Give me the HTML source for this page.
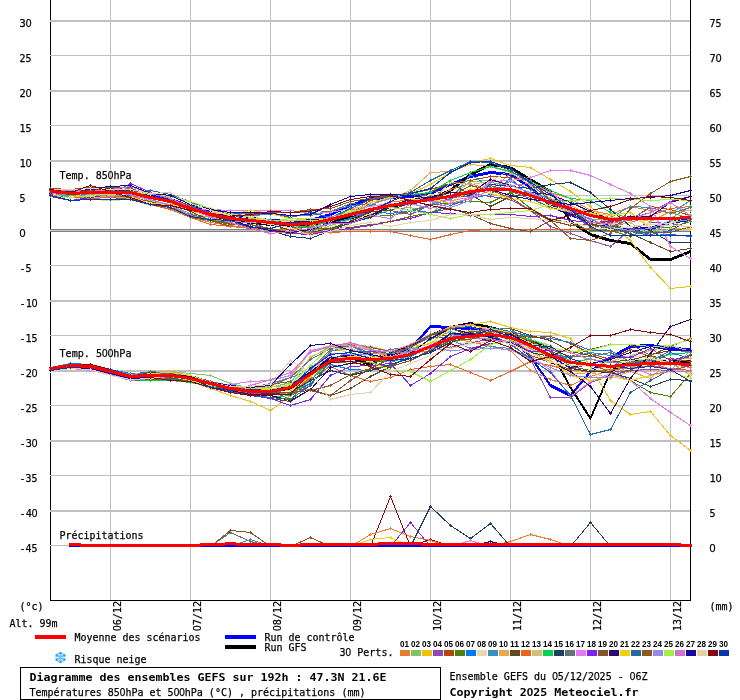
<!DOCTYPE html><html><head><meta charset="utf-8"><title>Diagramme des ensembles GEFS</title>
<style>html,body{margin:0;padding:0;background:#fff}svg{display:block}text{font-family:"DejaVu Sans Mono","Liberation Mono",monospace;fill:#000}.s{font-size:11px;stroke:#000;stroke-width:0.25px}.b{font-size:11px;font-weight:bold}.t{font-family:"Liberation Sans","DejaVu Sans",sans-serif;font-size:8.6px;font-weight:bold}.z{font-family:"Liberation Sans","DejaVu Sans",sans-serif}.m polyline{fill:none;stroke-width:1}</style></head><body>
<svg width="740" height="700" viewBox="0 0 740 700">
<rect width="740" height="700" fill="#fff"/>
<g shape-rendering="crispEdges">
<rect x="50" y="0" width="1" height="601" fill="#000"/>
<rect x="110" y="0" width="1" height="600" fill="#c0c0c0"/>
<rect x="190" y="0" width="1" height="600" fill="#c0c0c0"/>
<rect x="270" y="0" width="1" height="600" fill="#c0c0c0"/>
<rect x="350" y="0" width="1" height="600" fill="#c0c0c0"/>
<rect x="430" y="0" width="1" height="600" fill="#c0c0c0"/>
<rect x="510" y="0" width="1" height="600" fill="#c0c0c0"/>
<rect x="590" y="0" width="1" height="600" fill="#c0c0c0"/>
<rect x="670" y="0" width="1" height="600" fill="#c0c0c0"/>
<rect x="50" y="20" width="640" height="2" fill="#c0c0c0"/>
<rect x="50" y="55" width="640" height="1" fill="#c0c0c0"/>
<rect x="50" y="90" width="640" height="2" fill="#c0c0c0"/>
<rect x="50" y="125" width="640" height="1" fill="#c0c0c0"/>
<rect x="50" y="160" width="640" height="2" fill="#c0c0c0"/>
<rect x="50" y="195" width="640" height="1" fill="#c0c0c0"/>
<rect x="50" y="230" width="640" height="2" fill="#c0c0c0"/>
<rect x="50" y="265" width="640" height="1" fill="#c0c0c0"/>
<rect x="50" y="300" width="640" height="2" fill="#c0c0c0"/>
<rect x="50" y="335" width="640" height="1" fill="#c0c0c0"/>
<rect x="50" y="370" width="640" height="2" fill="#c0c0c0"/>
<rect x="50" y="405" width="640" height="1" fill="#c0c0c0"/>
<rect x="50" y="440" width="640" height="2" fill="#c0c0c0"/>
<rect x="50" y="475" width="640" height="1" fill="#c0c0c0"/>
<rect x="50" y="510" width="640" height="2" fill="#c0c0c0"/>
<rect x="50" y="545" width="640" height="1" fill="#c0c0c0"/>
<rect x="50" y="229" width="640" height="3" fill="#808080"/><rect x="50" y="230" width="640" height="1" fill="#c8c8c8"/>
<rect x="690" y="0" width="1" height="601" fill="#000"/><rect x="50" y="600" width="641" height="1" fill="#000"/></g>
<polygon points="50.5,188.5 70.5,191.5 90.5,189.5 110.5,189.5 130.5,191.5 150.5,194.5 170.5,198.5 190.5,205.5 210.5,211.5 230.5,215.5 250.5,217.5 270.5,219.5 290.5,220.5 310.5,219.5 330.5,213.5 350.5,204.5 370.5,197.5 390.5,196.5 410.5,195.5 430.5,192.5 450.5,183.5 470.5,175.5 490.5,171.5 510.5,173.5 530.5,186.5 550.5,204.5 570.5,213.5 590.5,221.5 610.5,225.5 630.5,228.5 650.5,227.5 670.5,221.5 690.5,218.5 690.5,220.5 670.5,223.5 650.5,229.5 630.5,230.5 610.5,227.5 590.5,223.5 570.5,215.5 550.5,206.5 530.5,188.5 510.5,175.5 490.5,173.5 470.5,177.5 450.5,185.5 430.5,194.5 410.5,197.5 390.5,198.5 370.5,199.5 350.5,206.5 330.5,215.5 310.5,221.5 290.5,222.5 270.5,221.5 250.5,219.5 230.5,217.5 210.5,213.5 190.5,207.5 170.5,200.5 150.5,196.5 130.5,193.5 110.5,191.5 90.5,191.5 70.5,193.5 50.5,190.5" fill="#0000ff" stroke="#0000ff" stroke-width="1" stroke-linejoin="round" shape-rendering="crispEdges"/>
<polygon points="50.5,367.5 70.5,364.5 90.5,365.5 110.5,371.5 130.5,376.5 150.5,374.5 170.5,375.5 190.5,378.5 210.5,383.5 230.5,388.5 250.5,390.5 270.5,390.5 290.5,385.5 310.5,369.5 330.5,356.5 350.5,355.5 370.5,356.5 390.5,354.5 410.5,347.5 430.5,325.5 450.5,326.5 470.5,327.5 490.5,329.5 510.5,336.5 530.5,355.5 550.5,384.5 570.5,394.5 590.5,370.5 610.5,356.5 630.5,345.5 650.5,344.5 670.5,347.5 690.5,348.5 690.5,350.5 670.5,349.5 650.5,346.5 630.5,347.5 610.5,358.5 590.5,372.5 570.5,396.5 550.5,386.5 530.5,357.5 510.5,338.5 490.5,331.5 470.5,329.5 450.5,328.5 430.5,327.5 410.5,349.5 390.5,356.5 370.5,358.5 350.5,357.5 330.5,358.5 310.5,371.5 290.5,387.5 270.5,392.5 250.5,392.5 230.5,390.5 210.5,385.5 190.5,380.5 170.5,377.5 150.5,376.5 130.5,378.5 110.5,373.5 90.5,367.5 70.5,366.5 50.5,369.5" fill="#0000ff" stroke="#0000ff" stroke-width="1" stroke-linejoin="round" shape-rendering="crispEdges"/>
<polygon points="50.5,189.5 70.5,192.5 90.5,191.5 110.5,190.5 130.5,191.5 150.5,196.5 170.5,200.5 190.5,207.5 210.5,214.5 230.5,218.5 250.5,221.5 270.5,223.5 290.5,224.5 310.5,223.5 330.5,220.5 350.5,216.5 370.5,213.5 390.5,205.5 410.5,201.5 430.5,197.5 450.5,189.5 470.5,173.5 490.5,163.5 510.5,166.5 530.5,178.5 550.5,190.5 570.5,220.5 590.5,233.5 610.5,239.5 630.5,242.5 650.5,258.5 670.5,258.5 690.5,250.5 690.5,252.5 670.5,260.5 650.5,260.5 630.5,244.5 610.5,241.5 590.5,235.5 570.5,222.5 550.5,192.5 530.5,180.5 510.5,168.5 490.5,165.5 470.5,175.5 450.5,191.5 430.5,199.5 410.5,203.5 390.5,207.5 370.5,215.5 350.5,218.5 330.5,222.5 310.5,225.5 290.5,226.5 270.5,225.5 250.5,223.5 230.5,220.5 210.5,216.5 190.5,209.5 170.5,202.5 150.5,198.5 130.5,193.5 110.5,192.5 90.5,193.5 70.5,194.5 50.5,191.5" fill="#000000" stroke="#000000" stroke-width="1" stroke-linejoin="round" shape-rendering="crispEdges"/>
<polygon points="50.5,367.5 70.5,364.5 90.5,365.5 110.5,370.5 130.5,375.5 150.5,374.5 170.5,374.5 190.5,377.5 210.5,383.5 230.5,388.5 250.5,390.5 270.5,390.5 290.5,387.5 310.5,372.5 330.5,358.5 350.5,356.5 370.5,363.5 390.5,352.5 410.5,345.5 430.5,334.5 450.5,326.5 470.5,322.5 490.5,326.5 510.5,332.5 530.5,339.5 550.5,349.5 570.5,386.5 590.5,417.5 610.5,370.5 630.5,359.5 650.5,359.5 670.5,360.5 690.5,360.5 690.5,362.5 670.5,362.5 650.5,361.5 630.5,361.5 610.5,372.5 590.5,419.5 570.5,388.5 550.5,351.5 530.5,341.5 510.5,334.5 490.5,328.5 470.5,324.5 450.5,328.5 430.5,336.5 410.5,347.5 390.5,354.5 370.5,365.5 350.5,358.5 330.5,360.5 310.5,374.5 290.5,389.5 270.5,392.5 250.5,392.5 230.5,390.5 210.5,385.5 190.5,379.5 170.5,376.5 150.5,376.5 130.5,377.5 110.5,372.5 90.5,367.5 70.5,366.5 50.5,369.5" fill="#000000" stroke="#000000" stroke-width="1" stroke-linejoin="round" shape-rendering="crispEdges"/>
<g class="m" shape-rendering="crispEdges">
<polyline points="50,191.5 70,194.5 90,194.5 110,192.5 130,197.5 150,203.5 170,208.5 190,216.5 210,222.5 230,225.5 250,228.5 270,229.5 290,229.5 310,226.5 330,217.5 350,209.5 370,209.5 390,201.5 410,200.5 430,200.5 450,189.5 470,183.5 490,190.5 510,173.5 530,182.5 550,192.5 570,198.5 590,210.5 610,214.5 630,206.5 650,210.5 670,212.5 690,218.5" stroke="#E87C30" transform="translate(0.5,0)"/>
<path d="M49,191h3v1h-3zM50,190h1v3h-1zM69,194h3v1h-3zM70,193h1v3h-1zM89,194h3v1h-3zM90,193h1v3h-1zM109,192h3v1h-3zM110,191h1v3h-1zM129,197h3v1h-3zM130,196h1v3h-1zM149,203h3v1h-3zM150,202h1v3h-1zM169,208h3v1h-3zM170,207h1v3h-1zM189,216h3v1h-3zM190,215h1v3h-1zM209,222h3v1h-3zM210,221h1v3h-1zM229,225h3v1h-3zM230,224h1v3h-1zM249,228h3v1h-3zM250,227h1v3h-1zM269,229h3v1h-3zM270,228h1v3h-1zM289,229h3v1h-3zM290,228h1v3h-1zM309,226h3v1h-3zM310,225h1v3h-1zM329,217h3v1h-3zM330,216h1v3h-1zM349,209h3v1h-3zM350,208h1v3h-1zM369,209h3v1h-3zM370,208h1v3h-1zM389,201h3v1h-3zM390,200h1v3h-1zM409,200h3v1h-3zM410,199h1v3h-1zM429,200h3v1h-3zM430,199h1v3h-1zM449,189h3v1h-3zM450,188h1v3h-1zM469,183h3v1h-3zM470,182h1v3h-1zM489,190h3v1h-3zM490,189h1v3h-1zM509,173h3v1h-3zM510,172h1v3h-1zM529,182h3v1h-3zM530,181h1v3h-1zM549,192h3v1h-3zM550,191h1v3h-1zM569,198h3v1h-3zM570,197h1v3h-1zM589,210h3v1h-3zM590,209h1v3h-1zM609,214h3v1h-3zM610,213h1v3h-1zM629,206h3v1h-3zM630,205h1v3h-1zM649,210h3v1h-3zM650,209h1v3h-1zM669,212h3v1h-3zM670,211h1v3h-1zM689,218h3v1h-3zM690,217h1v3h-1z" fill="#E87C30" stroke="none"/>
<polyline points="50,367.5 70,363.5 90,364.5 110,372.5 130,376.5 150,378.5 170,376.5 190,379.5 210,383.5 230,387.5 250,390.5 270,391.5 290,395.5 310,376.5 330,350.5 350,349.5 370,353.5 390,353.5 410,351.5 430,351.5 450,339.5 470,341.5 490,346.5 510,350.5 530,370.5 550,379.5 570,385.5 590,376.5 610,370.5 630,366.5 650,363.5 670,364.5 690,367.5" stroke="#E87C30" transform="translate(0.5,0)"/>
<path d="M49,367h3v1h-3zM50,366h1v3h-1zM69,363h3v1h-3zM70,362h1v3h-1zM89,364h3v1h-3zM90,363h1v3h-1zM109,372h3v1h-3zM110,371h1v3h-1zM129,376h3v1h-3zM130,375h1v3h-1zM149,378h3v1h-3zM150,377h1v3h-1zM169,376h3v1h-3zM170,375h1v3h-1zM189,379h3v1h-3zM190,378h1v3h-1zM209,383h3v1h-3zM210,382h1v3h-1zM229,387h3v1h-3zM230,386h1v3h-1zM249,390h3v1h-3zM250,389h1v3h-1zM269,391h3v1h-3zM270,390h1v3h-1zM289,395h3v1h-3zM290,394h1v3h-1zM309,376h3v1h-3zM310,375h1v3h-1zM329,350h3v1h-3zM330,349h1v3h-1zM349,349h3v1h-3zM350,348h1v3h-1zM369,353h3v1h-3zM370,352h1v3h-1zM389,353h3v1h-3zM390,352h1v3h-1zM409,351h3v1h-3zM410,350h1v3h-1zM429,351h3v1h-3zM430,350h1v3h-1zM449,339h3v1h-3zM450,338h1v3h-1zM469,341h3v1h-3zM470,340h1v3h-1zM489,346h3v1h-3zM490,345h1v3h-1zM509,350h3v1h-3zM510,349h1v3h-1zM529,370h3v1h-3zM530,369h1v3h-1zM549,379h3v1h-3zM550,378h1v3h-1zM569,385h3v1h-3zM570,384h1v3h-1zM589,376h3v1h-3zM590,375h1v3h-1zM609,370h3v1h-3zM610,369h1v3h-1zM629,366h3v1h-3zM630,365h1v3h-1zM649,363h3v1h-3zM650,362h1v3h-1zM669,364h3v1h-3zM670,363h1v3h-1zM689,367h3v1h-3zM690,366h1v3h-1z" fill="#E87C30" stroke="none"/>
<polyline points="50,195.5 70,197.5 90,197.5 110,196.5 130,198.5 150,201.5 170,205.5 190,213.5 210,217.5 230,222.5 250,226.5 270,231.5 290,233.5 310,233.5 330,225.5 350,219.5 370,217.5 390,209.5 410,207.5 430,214.5 450,196.5 470,181.5 490,180.5 510,184.5 530,193.5 550,198.5 570,209.5 590,219.5 610,220.5 630,234.5 650,232.5 670,222.5 690,219.5" stroke="#80C468" transform="translate(0.5,0)"/>
<path d="M49,195h3v1h-3zM50,194h1v3h-1zM69,197h3v1h-3zM70,196h1v3h-1zM89,197h3v1h-3zM90,196h1v3h-1zM109,196h3v1h-3zM110,195h1v3h-1zM129,198h3v1h-3zM130,197h1v3h-1zM149,201h3v1h-3zM150,200h1v3h-1zM169,205h3v1h-3zM170,204h1v3h-1zM189,213h3v1h-3zM190,212h1v3h-1zM209,217h3v1h-3zM210,216h1v3h-1zM229,222h3v1h-3zM230,221h1v3h-1zM249,226h3v1h-3zM250,225h1v3h-1zM269,231h3v1h-3zM270,230h1v3h-1zM289,233h3v1h-3zM290,232h1v3h-1zM309,233h3v1h-3zM310,232h1v3h-1zM329,225h3v1h-3zM330,224h1v3h-1zM349,219h3v1h-3zM350,218h1v3h-1zM369,217h3v1h-3zM370,216h1v3h-1zM389,209h3v1h-3zM390,208h1v3h-1zM409,207h3v1h-3zM410,206h1v3h-1zM429,214h3v1h-3zM430,213h1v3h-1zM449,196h3v1h-3zM450,195h1v3h-1zM469,181h3v1h-3zM470,180h1v3h-1zM489,180h3v1h-3zM490,179h1v3h-1zM509,184h3v1h-3zM510,183h1v3h-1zM529,193h3v1h-3zM530,192h1v3h-1zM549,198h3v1h-3zM550,197h1v3h-1zM569,209h3v1h-3zM570,208h1v3h-1zM589,219h3v1h-3zM590,218h1v3h-1zM609,220h3v1h-3zM610,219h1v3h-1zM629,234h3v1h-3zM630,233h1v3h-1zM649,232h3v1h-3zM650,231h1v3h-1zM669,222h3v1h-3zM670,221h1v3h-1zM689,219h3v1h-3zM690,218h1v3h-1z" fill="#80C468" stroke="none"/>
<polyline points="50,369.5 70,366.5 90,364.5 110,370.5 130,373.5 150,372.5 170,371.5 190,373.5 210,375.5 230,383.5 250,388.5 270,387.5 290,382.5 310,357.5 330,346.5 350,344.5 370,346.5 390,351.5 410,352.5 430,348.5 450,342.5 470,338.5 490,338.5 510,334.5 530,348.5 550,358.5 570,363.5 590,358.5 610,366.5 630,368.5 650,358.5 670,362.5 690,375.5" stroke="#80C468" transform="translate(0.5,0)"/>
<path d="M49,369h3v1h-3zM50,368h1v3h-1zM69,366h3v1h-3zM70,365h1v3h-1zM89,364h3v1h-3zM90,363h1v3h-1zM109,370h3v1h-3zM110,369h1v3h-1zM129,373h3v1h-3zM130,372h1v3h-1zM149,372h3v1h-3zM150,371h1v3h-1zM169,371h3v1h-3zM170,370h1v3h-1zM189,373h3v1h-3zM190,372h1v3h-1zM209,375h3v1h-3zM210,374h1v3h-1zM229,383h3v1h-3zM230,382h1v3h-1zM249,388h3v1h-3zM250,387h1v3h-1zM269,387h3v1h-3zM270,386h1v3h-1zM289,382h3v1h-3zM290,381h1v3h-1zM309,357h3v1h-3zM310,356h1v3h-1zM329,346h3v1h-3zM330,345h1v3h-1zM349,344h3v1h-3zM350,343h1v3h-1zM369,346h3v1h-3zM370,345h1v3h-1zM389,351h3v1h-3zM390,350h1v3h-1zM409,352h3v1h-3zM410,351h1v3h-1zM429,348h3v1h-3zM430,347h1v3h-1zM449,342h3v1h-3zM450,341h1v3h-1zM469,338h3v1h-3zM470,337h1v3h-1zM489,338h3v1h-3zM490,337h1v3h-1zM509,334h3v1h-3zM510,333h1v3h-1zM529,348h3v1h-3zM530,347h1v3h-1zM549,358h3v1h-3zM550,357h1v3h-1zM569,363h3v1h-3zM570,362h1v3h-1zM589,358h3v1h-3zM590,357h1v3h-1zM609,366h3v1h-3zM610,365h1v3h-1zM629,368h3v1h-3zM630,367h1v3h-1zM649,358h3v1h-3zM650,357h1v3h-1zM669,362h3v1h-3zM670,361h1v3h-1zM689,375h3v1h-3zM690,374h1v3h-1z" fill="#80C468" stroke="none"/>
<polyline points="50,194.5 70,195.5 90,196.5 110,195.5 130,196.5 150,203.5 170,206.5 190,207.5 210,212.5 230,213.5 250,217.5 270,220.5 290,220.5 310,220.5 330,219.5 350,214.5 370,214.5 390,201.5 410,193.5 430,184.5 450,172.5 470,162.5 490,158.5 510,165.5 530,167.5 550,179.5 570,191.5 590,206.5 610,224.5 630,240.5 650,267.5 670,288.5 690,286.5" stroke="#F0C010" transform="translate(0.5,0)"/>
<path d="M49,194h3v1h-3zM50,193h1v3h-1zM69,195h3v1h-3zM70,194h1v3h-1zM89,196h3v1h-3zM90,195h1v3h-1zM109,195h3v1h-3zM110,194h1v3h-1zM129,196h3v1h-3zM130,195h1v3h-1zM149,203h3v1h-3zM150,202h1v3h-1zM169,206h3v1h-3zM170,205h1v3h-1zM189,207h3v1h-3zM190,206h1v3h-1zM209,212h3v1h-3zM210,211h1v3h-1zM229,213h3v1h-3zM230,212h1v3h-1zM249,217h3v1h-3zM250,216h1v3h-1zM269,220h3v1h-3zM270,219h1v3h-1zM289,220h3v1h-3zM290,219h1v3h-1zM309,220h3v1h-3zM310,219h1v3h-1zM329,219h3v1h-3zM330,218h1v3h-1zM349,214h3v1h-3zM350,213h1v3h-1zM369,214h3v1h-3zM370,213h1v3h-1zM389,201h3v1h-3zM390,200h1v3h-1zM409,193h3v1h-3zM410,192h1v3h-1zM429,184h3v1h-3zM430,183h1v3h-1zM449,172h3v1h-3zM450,171h1v3h-1zM469,162h3v1h-3zM470,161h1v3h-1zM489,158h3v1h-3zM490,157h1v3h-1zM509,165h3v1h-3zM510,164h1v3h-1zM529,167h3v1h-3zM530,166h1v3h-1zM549,179h3v1h-3zM550,178h1v3h-1zM569,191h3v1h-3zM570,190h1v3h-1zM589,206h3v1h-3zM590,205h1v3h-1zM609,224h3v1h-3zM610,223h1v3h-1zM629,240h3v1h-3zM630,239h1v3h-1zM649,267h3v1h-3zM650,266h1v3h-1zM669,288h3v1h-3zM670,287h1v3h-1zM689,286h3v1h-3zM690,285h1v3h-1z" fill="#F0C010" stroke="none"/>
<polyline points="50,369.5 70,366.5 90,367.5 110,372.5 130,378.5 150,373.5 170,375.5 190,381.5 210,388.5 230,395.5 250,401.5 270,410.5 290,395.5 310,379.5 330,362.5 350,358.5 370,356.5 390,353.5 410,347.5 430,336.5 450,326.5 470,324.5 490,321.5 510,327.5 530,331.5 550,332.5 570,338.5 590,366.5 610,400.5 630,414.5 650,411.5 670,435.5 690,450.5" stroke="#F0C010" transform="translate(0.5,0)"/>
<path d="M49,369h3v1h-3zM50,368h1v3h-1zM69,366h3v1h-3zM70,365h1v3h-1zM89,367h3v1h-3zM90,366h1v3h-1zM109,372h3v1h-3zM110,371h1v3h-1zM129,378h3v1h-3zM130,377h1v3h-1zM149,373h3v1h-3zM150,372h1v3h-1zM169,375h3v1h-3zM170,374h1v3h-1zM189,381h3v1h-3zM190,380h1v3h-1zM209,388h3v1h-3zM210,387h1v3h-1zM229,395h3v1h-3zM230,394h1v3h-1zM249,401h3v1h-3zM250,400h1v3h-1zM269,410h3v1h-3zM270,409h1v3h-1zM289,395h3v1h-3zM290,394h1v3h-1zM309,379h3v1h-3zM310,378h1v3h-1zM329,362h3v1h-3zM330,361h1v3h-1zM349,358h3v1h-3zM350,357h1v3h-1zM369,356h3v1h-3zM370,355h1v3h-1zM389,353h3v1h-3zM390,352h1v3h-1zM409,347h3v1h-3zM410,346h1v3h-1zM429,336h3v1h-3zM430,335h1v3h-1zM449,326h3v1h-3zM450,325h1v3h-1zM469,324h3v1h-3zM470,323h1v3h-1zM489,321h3v1h-3zM490,320h1v3h-1zM509,327h3v1h-3zM510,326h1v3h-1zM529,331h3v1h-3zM530,330h1v3h-1zM549,332h3v1h-3zM550,331h1v3h-1zM569,338h3v1h-3zM570,337h1v3h-1zM589,366h3v1h-3zM590,365h1v3h-1zM609,400h3v1h-3zM610,399h1v3h-1zM629,414h3v1h-3zM630,413h1v3h-1zM649,411h3v1h-3zM650,410h1v3h-1zM669,435h3v1h-3zM670,434h1v3h-1zM689,450h3v1h-3zM690,449h1v3h-1z" fill="#F0C010" stroke="none"/>
<polyline points="50,194.5 70,197.5 90,195.5 110,196.5 130,199.5 150,205.5 170,202.5 190,210.5 210,216.5 230,223.5 250,227.5 270,229.5 290,232.5 310,223.5 330,223.5 350,218.5 370,209.5 390,210.5 410,214.5 430,204.5 450,198.5 470,193.5 490,196.5 510,199.5 530,210.5 550,226.5 570,233.5 590,240.5 610,246.5 630,229.5 650,222.5 670,223.5 690,227.5" stroke="#9048B0" transform="translate(0.5,0)"/>
<path d="M49,194h3v1h-3zM50,193h1v3h-1zM69,197h3v1h-3zM70,196h1v3h-1zM89,195h3v1h-3zM90,194h1v3h-1zM109,196h3v1h-3zM110,195h1v3h-1zM129,199h3v1h-3zM130,198h1v3h-1zM149,205h3v1h-3zM150,204h1v3h-1zM169,202h3v1h-3zM170,201h1v3h-1zM189,210h3v1h-3zM190,209h1v3h-1zM209,216h3v1h-3zM210,215h1v3h-1zM229,223h3v1h-3zM230,222h1v3h-1zM249,227h3v1h-3zM250,226h1v3h-1zM269,229h3v1h-3zM270,228h1v3h-1zM289,232h3v1h-3zM290,231h1v3h-1zM309,223h3v1h-3zM310,222h1v3h-1zM329,223h3v1h-3zM330,222h1v3h-1zM349,218h3v1h-3zM350,217h1v3h-1zM369,209h3v1h-3zM370,208h1v3h-1zM389,210h3v1h-3zM390,209h1v3h-1zM409,214h3v1h-3zM410,213h1v3h-1zM429,204h3v1h-3zM430,203h1v3h-1zM449,198h3v1h-3zM450,197h1v3h-1zM469,193h3v1h-3zM470,192h1v3h-1zM489,196h3v1h-3zM490,195h1v3h-1zM509,199h3v1h-3zM510,198h1v3h-1zM529,210h3v1h-3zM530,209h1v3h-1zM549,226h3v1h-3zM550,225h1v3h-1zM569,233h3v1h-3zM570,232h1v3h-1zM589,240h3v1h-3zM590,239h1v3h-1zM609,246h3v1h-3zM610,245h1v3h-1zM629,229h3v1h-3zM630,228h1v3h-1zM649,222h3v1h-3zM650,221h1v3h-1zM669,223h3v1h-3zM670,222h1v3h-1zM689,227h3v1h-3zM690,226h1v3h-1z" fill="#9048B0" stroke="none"/>
<polyline points="50,370.5 70,368.5 90,369.5 110,373.5 130,376.5 150,375.5 170,377.5 190,380.5 210,386.5 230,392.5 250,393.5 270,393.5 290,395.5 310,385.5 330,361.5 350,361.5 370,362.5 390,367.5 410,353.5 430,346.5 450,347.5 470,342.5 490,339.5 510,343.5 530,359.5 550,397.5 570,397.5 590,382.5 610,375.5 630,370.5 650,369.5 670,370.5 690,365.5" stroke="#9048B0" transform="translate(0.5,0)"/>
<path d="M49,370h3v1h-3zM50,369h1v3h-1zM69,368h3v1h-3zM70,367h1v3h-1zM89,369h3v1h-3zM90,368h1v3h-1zM109,373h3v1h-3zM110,372h1v3h-1zM129,376h3v1h-3zM130,375h1v3h-1zM149,375h3v1h-3zM150,374h1v3h-1zM169,377h3v1h-3zM170,376h1v3h-1zM189,380h3v1h-3zM190,379h1v3h-1zM209,386h3v1h-3zM210,385h1v3h-1zM229,392h3v1h-3zM230,391h1v3h-1zM249,393h3v1h-3zM250,392h1v3h-1zM269,393h3v1h-3zM270,392h1v3h-1zM289,395h3v1h-3zM290,394h1v3h-1zM309,385h3v1h-3zM310,384h1v3h-1zM329,361h3v1h-3zM330,360h1v3h-1zM349,361h3v1h-3zM350,360h1v3h-1zM369,362h3v1h-3zM370,361h1v3h-1zM389,367h3v1h-3zM390,366h1v3h-1zM409,353h3v1h-3zM410,352h1v3h-1zM429,346h3v1h-3zM430,345h1v3h-1zM449,347h3v1h-3zM450,346h1v3h-1zM469,342h3v1h-3zM470,341h1v3h-1zM489,339h3v1h-3zM490,338h1v3h-1zM509,343h3v1h-3zM510,342h1v3h-1zM529,359h3v1h-3zM530,358h1v3h-1zM549,397h3v1h-3zM550,396h1v3h-1zM569,397h3v1h-3zM570,396h1v3h-1zM589,382h3v1h-3zM590,381h1v3h-1zM609,375h3v1h-3zM610,374h1v3h-1zM629,370h3v1h-3zM630,369h1v3h-1zM649,369h3v1h-3zM650,368h1v3h-1zM669,370h3v1h-3zM670,369h1v3h-1zM689,365h3v1h-3zM690,364h1v3h-1z" fill="#9048B0" stroke="none"/>
<polyline points="50,193.5 70,193.5 90,193.5 110,193.5 130,198.5 150,204.5 170,209.5 190,217.5 210,220.5 230,226.5 250,228.5 270,229.5 290,231.5 310,225.5 330,218.5 350,213.5 370,200.5 390,195.5 410,193.5 430,189.5 450,183.5 470,180.5 490,176.5 510,177.5 530,180.5 550,199.5 570,209.5 590,223.5 610,222.5 630,220.5 650,206.5 670,209.5 690,215.5" stroke="#B04810" transform="translate(0.5,0)"/>
<path d="M49,193h3v1h-3zM50,192h1v3h-1zM69,193h3v1h-3zM70,192h1v3h-1zM89,193h3v1h-3zM90,192h1v3h-1zM109,193h3v1h-3zM110,192h1v3h-1zM129,198h3v1h-3zM130,197h1v3h-1zM149,204h3v1h-3zM150,203h1v3h-1zM169,209h3v1h-3zM170,208h1v3h-1zM189,217h3v1h-3zM190,216h1v3h-1zM209,220h3v1h-3zM210,219h1v3h-1zM229,226h3v1h-3zM230,225h1v3h-1zM249,228h3v1h-3zM250,227h1v3h-1zM269,229h3v1h-3zM270,228h1v3h-1zM289,231h3v1h-3zM290,230h1v3h-1zM309,225h3v1h-3zM310,224h1v3h-1zM329,218h3v1h-3zM330,217h1v3h-1zM349,213h3v1h-3zM350,212h1v3h-1zM369,200h3v1h-3zM370,199h1v3h-1zM389,195h3v1h-3zM390,194h1v3h-1zM409,193h3v1h-3zM410,192h1v3h-1zM429,189h3v1h-3zM430,188h1v3h-1zM449,183h3v1h-3zM450,182h1v3h-1zM469,180h3v1h-3zM470,179h1v3h-1zM489,176h3v1h-3zM490,175h1v3h-1zM509,177h3v1h-3zM510,176h1v3h-1zM529,180h3v1h-3zM530,179h1v3h-1zM549,199h3v1h-3zM550,198h1v3h-1zM569,209h3v1h-3zM570,208h1v3h-1zM589,223h3v1h-3zM590,222h1v3h-1zM609,222h3v1h-3zM610,221h1v3h-1zM629,220h3v1h-3zM630,219h1v3h-1zM649,206h3v1h-3zM650,205h1v3h-1zM669,209h3v1h-3zM670,208h1v3h-1zM689,215h3v1h-3zM690,214h1v3h-1z" fill="#B04810" stroke="none"/>
<polyline points="50,369.5 70,366.5 90,367.5 110,372.5 130,379.5 150,378.5 170,378.5 190,382.5 210,386.5 230,392.5 250,394.5 270,395.5 290,384.5 310,369.5 330,349.5 350,344.5 370,347.5 390,351.5 410,348.5 430,334.5 450,335.5 470,330.5 490,329.5 510,333.5 530,337.5 550,336.5 570,343.5 590,353.5 610,359.5 630,349.5 650,356.5 670,358.5 690,361.5" stroke="#B04810" transform="translate(0.5,0)"/>
<path d="M49,369h3v1h-3zM50,368h1v3h-1zM69,366h3v1h-3zM70,365h1v3h-1zM89,367h3v1h-3zM90,366h1v3h-1zM109,372h3v1h-3zM110,371h1v3h-1zM129,379h3v1h-3zM130,378h1v3h-1zM149,378h3v1h-3zM150,377h1v3h-1zM169,378h3v1h-3zM170,377h1v3h-1zM189,382h3v1h-3zM190,381h1v3h-1zM209,386h3v1h-3zM210,385h1v3h-1zM229,392h3v1h-3zM230,391h1v3h-1zM249,394h3v1h-3zM250,393h1v3h-1zM269,395h3v1h-3zM270,394h1v3h-1zM289,384h3v1h-3zM290,383h1v3h-1zM309,369h3v1h-3zM310,368h1v3h-1zM329,349h3v1h-3zM330,348h1v3h-1zM349,344h3v1h-3zM350,343h1v3h-1zM369,347h3v1h-3zM370,346h1v3h-1zM389,351h3v1h-3zM390,350h1v3h-1zM409,348h3v1h-3zM410,347h1v3h-1zM429,334h3v1h-3zM430,333h1v3h-1zM449,335h3v1h-3zM450,334h1v3h-1zM469,330h3v1h-3zM470,329h1v3h-1zM489,329h3v1h-3zM490,328h1v3h-1zM509,333h3v1h-3zM510,332h1v3h-1zM529,337h3v1h-3zM530,336h1v3h-1zM549,336h3v1h-3zM550,335h1v3h-1zM569,343h3v1h-3zM570,342h1v3h-1zM589,353h3v1h-3zM590,352h1v3h-1zM609,359h3v1h-3zM610,358h1v3h-1zM629,349h3v1h-3zM630,348h1v3h-1zM649,356h3v1h-3zM650,355h1v3h-1zM669,358h3v1h-3zM670,357h1v3h-1zM689,361h3v1h-3zM690,360h1v3h-1z" fill="#B04810" stroke="none"/>
<polyline points="50,190.5 70,193.5 90,198.5 110,197.5 130,199.5 150,204.5 170,207.5 190,216.5 210,220.5 230,224.5 250,224.5 270,230.5 290,227.5 310,227.5 330,228.5 350,223.5 370,216.5 390,215.5 410,211.5 430,204.5 450,203.5 470,201.5 490,202.5 510,192.5 530,208.5 550,219.5 570,222.5 590,230.5 610,230.5 630,236.5 650,227.5 670,227.5 690,221.5" stroke="#508010" transform="translate(0.5,0)"/>
<path d="M49,190h3v1h-3zM50,189h1v3h-1zM69,193h3v1h-3zM70,192h1v3h-1zM89,198h3v1h-3zM90,197h1v3h-1zM109,197h3v1h-3zM110,196h1v3h-1zM129,199h3v1h-3zM130,198h1v3h-1zM149,204h3v1h-3zM150,203h1v3h-1zM169,207h3v1h-3zM170,206h1v3h-1zM189,216h3v1h-3zM190,215h1v3h-1zM209,220h3v1h-3zM210,219h1v3h-1zM229,224h3v1h-3zM230,223h1v3h-1zM249,224h3v1h-3zM250,223h1v3h-1zM269,230h3v1h-3zM270,229h1v3h-1zM289,227h3v1h-3zM290,226h1v3h-1zM309,227h3v1h-3zM310,226h1v3h-1zM329,228h3v1h-3zM330,227h1v3h-1zM349,223h3v1h-3zM350,222h1v3h-1zM369,216h3v1h-3zM370,215h1v3h-1zM389,215h3v1h-3zM390,214h1v3h-1zM409,211h3v1h-3zM410,210h1v3h-1zM429,204h3v1h-3zM430,203h1v3h-1zM449,203h3v1h-3zM450,202h1v3h-1zM469,201h3v1h-3zM470,200h1v3h-1zM489,202h3v1h-3zM490,201h1v3h-1zM509,192h3v1h-3zM510,191h1v3h-1zM529,208h3v1h-3zM530,207h1v3h-1zM549,219h3v1h-3zM550,218h1v3h-1zM569,222h3v1h-3zM570,221h1v3h-1zM589,230h3v1h-3zM590,229h1v3h-1zM609,230h3v1h-3zM610,229h1v3h-1zM629,236h3v1h-3zM630,235h1v3h-1zM649,227h3v1h-3zM650,226h1v3h-1zM669,227h3v1h-3zM670,226h1v3h-1zM689,221h3v1h-3zM690,220h1v3h-1z" fill="#508010" stroke="none"/>
<polyline points="50,370.5 70,367.5 90,368.5 110,372.5 130,374.5 150,374.5 170,377.5 190,378.5 210,383.5 230,388.5 250,389.5 270,390.5 290,399.5 310,379.5 330,361.5 350,363.5 370,362.5 390,360.5 410,350.5 430,347.5 450,336.5 470,331.5 490,332.5 510,331.5 530,340.5 550,351.5 570,366.5 590,370.5 610,372.5 630,380.5 650,392.5 670,396.5 690,373.5" stroke="#508010" transform="translate(0.5,0)"/>
<path d="M49,370h3v1h-3zM50,369h1v3h-1zM69,367h3v1h-3zM70,366h1v3h-1zM89,368h3v1h-3zM90,367h1v3h-1zM109,372h3v1h-3zM110,371h1v3h-1zM129,374h3v1h-3zM130,373h1v3h-1zM149,374h3v1h-3zM150,373h1v3h-1zM169,377h3v1h-3zM170,376h1v3h-1zM189,378h3v1h-3zM190,377h1v3h-1zM209,383h3v1h-3zM210,382h1v3h-1zM229,388h3v1h-3zM230,387h1v3h-1zM249,389h3v1h-3zM250,388h1v3h-1zM269,390h3v1h-3zM270,389h1v3h-1zM289,399h3v1h-3zM290,398h1v3h-1zM309,379h3v1h-3zM310,378h1v3h-1zM329,361h3v1h-3zM330,360h1v3h-1zM349,363h3v1h-3zM350,362h1v3h-1zM369,362h3v1h-3zM370,361h1v3h-1zM389,360h3v1h-3zM390,359h1v3h-1zM409,350h3v1h-3zM410,349h1v3h-1zM429,347h3v1h-3zM430,346h1v3h-1zM449,336h3v1h-3zM450,335h1v3h-1zM469,331h3v1h-3zM470,330h1v3h-1zM489,332h3v1h-3zM490,331h1v3h-1zM509,331h3v1h-3zM510,330h1v3h-1zM529,340h3v1h-3zM530,339h1v3h-1zM549,351h3v1h-3zM550,350h1v3h-1zM569,366h3v1h-3zM570,365h1v3h-1zM589,370h3v1h-3zM590,369h1v3h-1zM609,372h3v1h-3zM610,371h1v3h-1zM629,380h3v1h-3zM630,379h1v3h-1zM649,392h3v1h-3zM650,391h1v3h-1zM669,396h3v1h-3zM670,395h1v3h-1zM689,373h3v1h-3zM690,372h1v3h-1z" fill="#508010" stroke="none"/>
<polyline points="50,190.5 70,194.5 90,194.5 110,194.5 130,195.5 150,196.5 170,200.5 190,208.5 210,213.5 230,216.5 250,222.5 270,221.5 290,225.5 310,231.5 330,223.5 350,218.5 370,211.5 390,213.5 410,210.5 430,212.5 450,205.5 470,198.5 490,194.5 510,178.5 530,196.5 550,207.5 570,209.5 590,222.5 610,228.5 630,231.5 650,235.5 670,234.5 690,236.5" stroke="#0878F0" transform="translate(0.5,0)"/>
<path d="M49,190h3v1h-3zM50,189h1v3h-1zM69,194h3v1h-3zM70,193h1v3h-1zM89,194h3v1h-3zM90,193h1v3h-1zM109,194h3v1h-3zM110,193h1v3h-1zM129,195h3v1h-3zM130,194h1v3h-1zM149,196h3v1h-3zM150,195h1v3h-1zM169,200h3v1h-3zM170,199h1v3h-1zM189,208h3v1h-3zM190,207h1v3h-1zM209,213h3v1h-3zM210,212h1v3h-1zM229,216h3v1h-3zM230,215h1v3h-1zM249,222h3v1h-3zM250,221h1v3h-1zM269,221h3v1h-3zM270,220h1v3h-1zM289,225h3v1h-3zM290,224h1v3h-1zM309,231h3v1h-3zM310,230h1v3h-1zM329,223h3v1h-3zM330,222h1v3h-1zM349,218h3v1h-3zM350,217h1v3h-1zM369,211h3v1h-3zM370,210h1v3h-1zM389,213h3v1h-3zM390,212h1v3h-1zM409,210h3v1h-3zM410,209h1v3h-1zM429,212h3v1h-3zM430,211h1v3h-1zM449,205h3v1h-3zM450,204h1v3h-1zM469,198h3v1h-3zM470,197h1v3h-1zM489,194h3v1h-3zM490,193h1v3h-1zM509,178h3v1h-3zM510,177h1v3h-1zM529,196h3v1h-3zM530,195h1v3h-1zM549,207h3v1h-3zM550,206h1v3h-1zM569,209h3v1h-3zM570,208h1v3h-1zM589,222h3v1h-3zM590,221h1v3h-1zM609,228h3v1h-3zM610,227h1v3h-1zM629,231h3v1h-3zM630,230h1v3h-1zM649,235h3v1h-3zM650,234h1v3h-1zM669,234h3v1h-3zM670,233h1v3h-1zM689,236h3v1h-3zM690,235h1v3h-1z" fill="#0878F0" stroke="none"/>
<polyline points="50,367.5 70,363.5 90,364.5 110,369.5 130,373.5 150,372.5 170,373.5 190,375.5 210,381.5 230,387.5 250,389.5 270,390.5 290,393.5 310,383.5 330,364.5 350,369.5 370,370.5 390,365.5 410,356.5 430,346.5 450,339.5 470,336.5 490,327.5 510,331.5 530,336.5 550,338.5 570,342.5 590,350.5 610,350.5 630,362.5 650,363.5 670,352.5 690,358.5" stroke="#0878F0" transform="translate(0.5,0)"/>
<path d="M49,367h3v1h-3zM50,366h1v3h-1zM69,363h3v1h-3zM70,362h1v3h-1zM89,364h3v1h-3zM90,363h1v3h-1zM109,369h3v1h-3zM110,368h1v3h-1zM129,373h3v1h-3zM130,372h1v3h-1zM149,372h3v1h-3zM150,371h1v3h-1zM169,373h3v1h-3zM170,372h1v3h-1zM189,375h3v1h-3zM190,374h1v3h-1zM209,381h3v1h-3zM210,380h1v3h-1zM229,387h3v1h-3zM230,386h1v3h-1zM249,389h3v1h-3zM250,388h1v3h-1zM269,390h3v1h-3zM270,389h1v3h-1zM289,393h3v1h-3zM290,392h1v3h-1zM309,383h3v1h-3zM310,382h1v3h-1zM329,364h3v1h-3zM330,363h1v3h-1zM349,369h3v1h-3zM350,368h1v3h-1zM369,370h3v1h-3zM370,369h1v3h-1zM389,365h3v1h-3zM390,364h1v3h-1zM409,356h3v1h-3zM410,355h1v3h-1zM429,346h3v1h-3zM430,345h1v3h-1zM449,339h3v1h-3zM450,338h1v3h-1zM469,336h3v1h-3zM470,335h1v3h-1zM489,327h3v1h-3zM490,326h1v3h-1zM509,331h3v1h-3zM510,330h1v3h-1zM529,336h3v1h-3zM530,335h1v3h-1zM549,338h3v1h-3zM550,337h1v3h-1zM569,342h3v1h-3zM570,341h1v3h-1zM589,350h3v1h-3zM590,349h1v3h-1zM609,350h3v1h-3zM610,349h1v3h-1zM629,362h3v1h-3zM630,361h1v3h-1zM649,363h3v1h-3zM650,362h1v3h-1zM669,352h3v1h-3zM670,351h1v3h-1zM689,358h3v1h-3zM690,357h1v3h-1z" fill="#0878F0" stroke="none"/>
<polyline points="50,193.5 70,197.5 90,199.5 110,200.5 130,199.5 150,205.5 170,207.5 190,216.5 210,219.5 230,221.5 250,215.5 270,220.5 290,221.5 310,224.5 330,227.5 350,221.5 370,213.5 390,206.5 410,199.5 430,194.5 450,196.5 470,189.5 490,186.5 510,184.5 530,197.5 550,206.5 570,211.5 590,223.5 610,225.5 630,217.5 650,224.5 670,223.5 690,214.5" stroke="#E8D8B0" transform="translate(0.5,0)"/>
<path d="M49,193h3v1h-3zM50,192h1v3h-1zM69,197h3v1h-3zM70,196h1v3h-1zM89,199h3v1h-3zM90,198h1v3h-1zM109,200h3v1h-3zM110,199h1v3h-1zM129,199h3v1h-3zM130,198h1v3h-1zM149,205h3v1h-3zM150,204h1v3h-1zM169,207h3v1h-3zM170,206h1v3h-1zM189,216h3v1h-3zM190,215h1v3h-1zM209,219h3v1h-3zM210,218h1v3h-1zM229,221h3v1h-3zM230,220h1v3h-1zM249,215h3v1h-3zM250,214h1v3h-1zM269,220h3v1h-3zM270,219h1v3h-1zM289,221h3v1h-3zM290,220h1v3h-1zM309,224h3v1h-3zM310,223h1v3h-1zM329,227h3v1h-3zM330,226h1v3h-1zM349,221h3v1h-3zM350,220h1v3h-1zM369,213h3v1h-3zM370,212h1v3h-1zM389,206h3v1h-3zM390,205h1v3h-1zM409,199h3v1h-3zM410,198h1v3h-1zM429,194h3v1h-3zM430,193h1v3h-1zM449,196h3v1h-3zM450,195h1v3h-1zM469,189h3v1h-3zM470,188h1v3h-1zM489,186h3v1h-3zM490,185h1v3h-1zM509,184h3v1h-3zM510,183h1v3h-1zM529,197h3v1h-3zM530,196h1v3h-1zM549,206h3v1h-3zM550,205h1v3h-1zM569,211h3v1h-3zM570,210h1v3h-1zM589,223h3v1h-3zM590,222h1v3h-1zM609,225h3v1h-3zM610,224h1v3h-1zM629,217h3v1h-3zM630,216h1v3h-1zM649,224h3v1h-3zM650,223h1v3h-1zM669,223h3v1h-3zM670,222h1v3h-1zM689,214h3v1h-3zM690,213h1v3h-1z" fill="#E8D8B0" stroke="none"/>
<polyline points="50,370.5 70,367.5 90,369.5 110,374.5 130,378.5 150,376.5 170,375.5 190,378.5 210,383.5 230,386.5 250,388.5 270,389.5 290,383.5 310,370.5 330,355.5 350,360.5 370,356.5 390,356.5 410,353.5 430,352.5 450,344.5 470,342.5 490,335.5 510,334.5 530,350.5 550,356.5 570,374.5 590,369.5 610,366.5 630,355.5 650,358.5 670,360.5 690,374.5" stroke="#E8D8B0" transform="translate(0.5,0)"/>
<path d="M49,370h3v1h-3zM50,369h1v3h-1zM69,367h3v1h-3zM70,366h1v3h-1zM89,369h3v1h-3zM90,368h1v3h-1zM109,374h3v1h-3zM110,373h1v3h-1zM129,378h3v1h-3zM130,377h1v3h-1zM149,376h3v1h-3zM150,375h1v3h-1zM169,375h3v1h-3zM170,374h1v3h-1zM189,378h3v1h-3zM190,377h1v3h-1zM209,383h3v1h-3zM210,382h1v3h-1zM229,386h3v1h-3zM230,385h1v3h-1zM249,388h3v1h-3zM250,387h1v3h-1zM269,389h3v1h-3zM270,388h1v3h-1zM289,383h3v1h-3zM290,382h1v3h-1zM309,370h3v1h-3zM310,369h1v3h-1zM329,355h3v1h-3zM330,354h1v3h-1zM349,360h3v1h-3zM350,359h1v3h-1zM369,356h3v1h-3zM370,355h1v3h-1zM389,356h3v1h-3zM390,355h1v3h-1zM409,353h3v1h-3zM410,352h1v3h-1zM429,352h3v1h-3zM430,351h1v3h-1zM449,344h3v1h-3zM450,343h1v3h-1zM469,342h3v1h-3zM470,341h1v3h-1zM489,335h3v1h-3zM490,334h1v3h-1zM509,334h3v1h-3zM510,333h1v3h-1zM529,350h3v1h-3zM530,349h1v3h-1zM549,356h3v1h-3zM550,355h1v3h-1zM569,374h3v1h-3zM570,373h1v3h-1zM589,369h3v1h-3zM590,368h1v3h-1zM609,366h3v1h-3zM610,365h1v3h-1zM629,355h3v1h-3zM630,354h1v3h-1zM649,358h3v1h-3zM650,357h1v3h-1zM669,360h3v1h-3zM670,359h1v3h-1zM689,374h3v1h-3zM690,373h1v3h-1z" fill="#E8D8B0" stroke="none"/>
<polyline points="50,189.5 70,191.5 90,193.5 110,190.5 130,188.5 150,194.5 170,195.5 190,202.5 210,208.5 230,214.5 250,215.5 270,214.5 290,215.5 310,215.5 330,211.5 350,205.5 370,204.5 390,206.5 410,210.5 430,204.5 450,199.5 470,174.5 490,187.5 510,181.5 530,189.5 550,200.5 570,200.5 590,213.5 610,217.5 630,206.5 650,207.5 670,213.5 690,200.5" stroke="#3890C0" transform="translate(0.5,0)"/>
<path d="M49,189h3v1h-3zM50,188h1v3h-1zM69,191h3v1h-3zM70,190h1v3h-1zM89,193h3v1h-3zM90,192h1v3h-1zM109,190h3v1h-3zM110,189h1v3h-1zM129,188h3v1h-3zM130,187h1v3h-1zM149,194h3v1h-3zM150,193h1v3h-1zM169,195h3v1h-3zM170,194h1v3h-1zM189,202h3v1h-3zM190,201h1v3h-1zM209,208h3v1h-3zM210,207h1v3h-1zM229,214h3v1h-3zM230,213h1v3h-1zM249,215h3v1h-3zM250,214h1v3h-1zM269,214h3v1h-3zM270,213h1v3h-1zM289,215h3v1h-3zM290,214h1v3h-1zM309,215h3v1h-3zM310,214h1v3h-1zM329,211h3v1h-3zM330,210h1v3h-1zM349,205h3v1h-3zM350,204h1v3h-1zM369,204h3v1h-3zM370,203h1v3h-1zM389,206h3v1h-3zM390,205h1v3h-1zM409,210h3v1h-3zM410,209h1v3h-1zM429,204h3v1h-3zM430,203h1v3h-1zM449,199h3v1h-3zM450,198h1v3h-1zM469,174h3v1h-3zM470,173h1v3h-1zM489,187h3v1h-3zM490,186h1v3h-1zM509,181h3v1h-3zM510,180h1v3h-1zM529,189h3v1h-3zM530,188h1v3h-1zM549,200h3v1h-3zM550,199h1v3h-1zM569,200h3v1h-3zM570,199h1v3h-1zM589,213h3v1h-3zM590,212h1v3h-1zM609,217h3v1h-3zM610,216h1v3h-1zM629,206h3v1h-3zM630,205h1v3h-1zM649,207h3v1h-3zM650,206h1v3h-1zM669,213h3v1h-3zM670,212h1v3h-1zM689,200h3v1h-3zM690,199h1v3h-1z" fill="#3890C0" stroke="none"/>
<polyline points="50,367.5 70,365.5 90,365.5 110,369.5 130,374.5 150,373.5 170,374.5 190,376.5 210,381.5 230,386.5 250,387.5 270,383.5 290,377.5 310,370.5 330,351.5 350,345.5 370,355.5 390,362.5 410,355.5 430,346.5 450,339.5 470,348.5 490,346.5 510,348.5 530,358.5 550,356.5 570,357.5 590,352.5 610,355.5 630,356.5 650,365.5 670,363.5 690,365.5" stroke="#3890C0" transform="translate(0.5,0)"/>
<path d="M49,367h3v1h-3zM50,366h1v3h-1zM69,365h3v1h-3zM70,364h1v3h-1zM89,365h3v1h-3zM90,364h1v3h-1zM109,369h3v1h-3zM110,368h1v3h-1zM129,374h3v1h-3zM130,373h1v3h-1zM149,373h3v1h-3zM150,372h1v3h-1zM169,374h3v1h-3zM170,373h1v3h-1zM189,376h3v1h-3zM190,375h1v3h-1zM209,381h3v1h-3zM210,380h1v3h-1zM229,386h3v1h-3zM230,385h1v3h-1zM249,387h3v1h-3zM250,386h1v3h-1zM269,383h3v1h-3zM270,382h1v3h-1zM289,377h3v1h-3zM290,376h1v3h-1zM309,370h3v1h-3zM310,369h1v3h-1zM329,351h3v1h-3zM330,350h1v3h-1zM349,345h3v1h-3zM350,344h1v3h-1zM369,355h3v1h-3zM370,354h1v3h-1zM389,362h3v1h-3zM390,361h1v3h-1zM409,355h3v1h-3zM410,354h1v3h-1zM429,346h3v1h-3zM430,345h1v3h-1zM449,339h3v1h-3zM450,338h1v3h-1zM469,348h3v1h-3zM470,347h1v3h-1zM489,346h3v1h-3zM490,345h1v3h-1zM509,348h3v1h-3zM510,347h1v3h-1zM529,358h3v1h-3zM530,357h1v3h-1zM549,356h3v1h-3zM550,355h1v3h-1zM569,357h3v1h-3zM570,356h1v3h-1zM589,352h3v1h-3zM590,351h1v3h-1zM609,355h3v1h-3zM610,354h1v3h-1zM629,356h3v1h-3zM630,355h1v3h-1zM649,365h3v1h-3zM650,364h1v3h-1zM669,363h3v1h-3zM670,362h1v3h-1zM689,365h3v1h-3zM690,364h1v3h-1z" fill="#3890C0" stroke="none"/>
<polyline points="50,195.5 70,195.5 90,197.5 110,196.5 130,198.5 150,196.5 170,200.5 190,210.5 210,216.5 230,222.5 250,218.5 270,221.5 290,224.5 310,233.5 330,221.5 350,212.5 370,204.5 390,198.5 410,190.5 430,172.5 450,171.5 470,164.5 490,166.5 510,172.5 530,185.5 550,198.5 570,205.5 590,214.5 610,217.5 630,217.5 650,221.5 670,211.5 690,210.5" stroke="#E8A850" transform="translate(0.5,0)"/>
<path d="M49,195h3v1h-3zM50,194h1v3h-1zM69,195h3v1h-3zM70,194h1v3h-1zM89,197h3v1h-3zM90,196h1v3h-1zM109,196h3v1h-3zM110,195h1v3h-1zM129,198h3v1h-3zM130,197h1v3h-1zM149,196h3v1h-3zM150,195h1v3h-1zM169,200h3v1h-3zM170,199h1v3h-1zM189,210h3v1h-3zM190,209h1v3h-1zM209,216h3v1h-3zM210,215h1v3h-1zM229,222h3v1h-3zM230,221h1v3h-1zM249,218h3v1h-3zM250,217h1v3h-1zM269,221h3v1h-3zM270,220h1v3h-1zM289,224h3v1h-3zM290,223h1v3h-1zM309,233h3v1h-3zM310,232h1v3h-1zM329,221h3v1h-3zM330,220h1v3h-1zM349,212h3v1h-3zM350,211h1v3h-1zM369,204h3v1h-3zM370,203h1v3h-1zM389,198h3v1h-3zM390,197h1v3h-1zM409,190h3v1h-3zM410,189h1v3h-1zM429,172h3v1h-3zM430,171h1v3h-1zM449,171h3v1h-3zM450,170h1v3h-1zM469,164h3v1h-3zM470,163h1v3h-1zM489,166h3v1h-3zM490,165h1v3h-1zM509,172h3v1h-3zM510,171h1v3h-1zM529,185h3v1h-3zM530,184h1v3h-1zM549,198h3v1h-3zM550,197h1v3h-1zM569,205h3v1h-3zM570,204h1v3h-1zM589,214h3v1h-3zM590,213h1v3h-1zM609,217h3v1h-3zM610,216h1v3h-1zM629,217h3v1h-3zM630,216h1v3h-1zM649,221h3v1h-3zM650,220h1v3h-1zM669,211h3v1h-3zM670,210h1v3h-1zM689,210h3v1h-3zM690,209h1v3h-1z" fill="#E8A850" stroke="none"/>
<polyline points="50,367.5 70,365.5 90,364.5 110,371.5 130,374.5 150,372.5 170,371.5 190,375.5 210,382.5 230,385.5 250,387.5 270,386.5 290,377.5 310,351.5 330,345.5 350,343.5 370,349.5 390,359.5 410,348.5 430,343.5 450,336.5 470,336.5 490,334.5 510,338.5 530,351.5 550,361.5 570,374.5 590,372.5 610,378.5 630,371.5 650,378.5 670,359.5 690,358.5" stroke="#E8A850" transform="translate(0.5,0)"/>
<path d="M49,367h3v1h-3zM50,366h1v3h-1zM69,365h3v1h-3zM70,364h1v3h-1zM89,364h3v1h-3zM90,363h1v3h-1zM109,371h3v1h-3zM110,370h1v3h-1zM129,374h3v1h-3zM130,373h1v3h-1zM149,372h3v1h-3zM150,371h1v3h-1zM169,371h3v1h-3zM170,370h1v3h-1zM189,375h3v1h-3zM190,374h1v3h-1zM209,382h3v1h-3zM210,381h1v3h-1zM229,385h3v1h-3zM230,384h1v3h-1zM249,387h3v1h-3zM250,386h1v3h-1zM269,386h3v1h-3zM270,385h1v3h-1zM289,377h3v1h-3zM290,376h1v3h-1zM309,351h3v1h-3zM310,350h1v3h-1zM329,345h3v1h-3zM330,344h1v3h-1zM349,343h3v1h-3zM350,342h1v3h-1zM369,349h3v1h-3zM370,348h1v3h-1zM389,359h3v1h-3zM390,358h1v3h-1zM409,348h3v1h-3zM410,347h1v3h-1zM429,343h3v1h-3zM430,342h1v3h-1zM449,336h3v1h-3zM450,335h1v3h-1zM469,336h3v1h-3zM470,335h1v3h-1zM489,334h3v1h-3zM490,333h1v3h-1zM509,338h3v1h-3zM510,337h1v3h-1zM529,351h3v1h-3zM530,350h1v3h-1zM549,361h3v1h-3zM550,360h1v3h-1zM569,374h3v1h-3zM570,373h1v3h-1zM589,372h3v1h-3zM590,371h1v3h-1zM609,378h3v1h-3zM610,377h1v3h-1zM629,371h3v1h-3zM630,370h1v3h-1zM649,378h3v1h-3zM650,377h1v3h-1zM669,359h3v1h-3zM670,358h1v3h-1zM689,358h3v1h-3zM690,357h1v3h-1z" fill="#E8A850" stroke="none"/>
<polyline points="50,188.5 70,190.5 90,190.5 110,188.5 130,189.5 150,196.5 170,201.5 190,211.5 210,220.5 230,221.5 250,219.5 270,223.5 290,230.5 310,232.5 330,228.5 350,221.5 370,211.5 390,210.5 410,202.5 430,191.5 450,183.5 470,194.5 490,206.5 510,196.5 530,194.5 550,204.5 570,210.5 590,223.5 610,228.5 630,233.5 650,242.5 670,251.5 690,248.5" stroke="#604820" transform="translate(0.5,0)"/>
<path d="M49,188h3v1h-3zM50,187h1v3h-1zM69,190h3v1h-3zM70,189h1v3h-1zM89,190h3v1h-3zM90,189h1v3h-1zM109,188h3v1h-3zM110,187h1v3h-1zM129,189h3v1h-3zM130,188h1v3h-1zM149,196h3v1h-3zM150,195h1v3h-1zM169,201h3v1h-3zM170,200h1v3h-1zM189,211h3v1h-3zM190,210h1v3h-1zM209,220h3v1h-3zM210,219h1v3h-1zM229,221h3v1h-3zM230,220h1v3h-1zM249,219h3v1h-3zM250,218h1v3h-1zM269,223h3v1h-3zM270,222h1v3h-1zM289,230h3v1h-3zM290,229h1v3h-1zM309,232h3v1h-3zM310,231h1v3h-1zM329,228h3v1h-3zM330,227h1v3h-1zM349,221h3v1h-3zM350,220h1v3h-1zM369,211h3v1h-3zM370,210h1v3h-1zM389,210h3v1h-3zM390,209h1v3h-1zM409,202h3v1h-3zM410,201h1v3h-1zM429,191h3v1h-3zM430,190h1v3h-1zM449,183h3v1h-3zM450,182h1v3h-1zM469,194h3v1h-3zM470,193h1v3h-1zM489,206h3v1h-3zM490,205h1v3h-1zM509,196h3v1h-3zM510,195h1v3h-1zM529,194h3v1h-3zM530,193h1v3h-1zM549,204h3v1h-3zM550,203h1v3h-1zM569,210h3v1h-3zM570,209h1v3h-1zM589,223h3v1h-3zM590,222h1v3h-1zM609,228h3v1h-3zM610,227h1v3h-1zM629,233h3v1h-3zM630,232h1v3h-1zM649,242h3v1h-3zM650,241h1v3h-1zM669,251h3v1h-3zM670,250h1v3h-1zM689,248h3v1h-3zM690,247h1v3h-1z" fill="#604820" stroke="none"/>
<polyline points="50,367.5 70,365.5 90,366.5 110,372.5 130,377.5 150,374.5 170,375.5 190,377.5 210,384.5 230,388.5 250,394.5 270,398.5 290,401.5 310,389.5 330,395.5 350,388.5 370,376.5 390,366.5 410,360.5 430,350.5 450,340.5 470,334.5 490,329.5 510,328.5 530,335.5 550,340.5 570,351.5 590,355.5 610,361.5 630,360.5 650,354.5 670,350.5 690,350.5" stroke="#604820" transform="translate(0.5,0)"/>
<path d="M49,367h3v1h-3zM50,366h1v3h-1zM69,365h3v1h-3zM70,364h1v3h-1zM89,366h3v1h-3zM90,365h1v3h-1zM109,372h3v1h-3zM110,371h1v3h-1zM129,377h3v1h-3zM130,376h1v3h-1zM149,374h3v1h-3zM150,373h1v3h-1zM169,375h3v1h-3zM170,374h1v3h-1zM189,377h3v1h-3zM190,376h1v3h-1zM209,384h3v1h-3zM210,383h1v3h-1zM229,388h3v1h-3zM230,387h1v3h-1zM249,394h3v1h-3zM250,393h1v3h-1zM269,398h3v1h-3zM270,397h1v3h-1zM289,401h3v1h-3zM290,400h1v3h-1zM309,389h3v1h-3zM310,388h1v3h-1zM329,395h3v1h-3zM330,394h1v3h-1zM349,388h3v1h-3zM350,387h1v3h-1zM369,376h3v1h-3zM370,375h1v3h-1zM389,366h3v1h-3zM390,365h1v3h-1zM409,360h3v1h-3zM410,359h1v3h-1zM429,350h3v1h-3zM430,349h1v3h-1zM449,340h3v1h-3zM450,339h1v3h-1zM469,334h3v1h-3zM470,333h1v3h-1zM489,329h3v1h-3zM490,328h1v3h-1zM509,328h3v1h-3zM510,327h1v3h-1zM529,335h3v1h-3zM530,334h1v3h-1zM549,340h3v1h-3zM550,339h1v3h-1zM569,351h3v1h-3zM570,350h1v3h-1zM589,355h3v1h-3zM590,354h1v3h-1zM609,361h3v1h-3zM610,360h1v3h-1zM629,360h3v1h-3zM630,359h1v3h-1zM649,354h3v1h-3zM650,353h1v3h-1zM669,350h3v1h-3zM670,349h1v3h-1zM689,350h3v1h-3zM690,349h1v3h-1z" fill="#604820" stroke="none"/>
<polyline points="50,191.5 70,197.5 90,198.5 110,197.5 130,194.5 150,204.5 170,209.5 190,217.5 210,224.5 230,226.5 250,228.5 270,229.5 290,231.5 310,232.5 330,232.5 350,231.5 370,231.5 390,231.5 410,235.5 430,239.5 450,234.5 470,230.5 490,229.5 510,229.5 530,229.5 550,229.5 570,229.5 590,228.5 610,226.5 630,222.5 650,215.5 670,208.5 690,206.5" stroke="#F06020" transform="translate(0.5,0)"/>
<path d="M49,191h3v1h-3zM50,190h1v3h-1zM69,197h3v1h-3zM70,196h1v3h-1zM89,198h3v1h-3zM90,197h1v3h-1zM109,197h3v1h-3zM110,196h1v3h-1zM129,194h3v1h-3zM130,193h1v3h-1zM149,204h3v1h-3zM150,203h1v3h-1zM169,209h3v1h-3zM170,208h1v3h-1zM189,217h3v1h-3zM190,216h1v3h-1zM209,224h3v1h-3zM210,223h1v3h-1zM229,226h3v1h-3zM230,225h1v3h-1zM249,228h3v1h-3zM250,227h1v3h-1zM269,229h3v1h-3zM270,228h1v3h-1zM289,231h3v1h-3zM290,230h1v3h-1zM309,232h3v1h-3zM310,231h1v3h-1zM329,232h3v1h-3zM330,231h1v3h-1zM349,231h3v1h-3zM350,230h1v3h-1zM369,231h3v1h-3zM370,230h1v3h-1zM389,231h3v1h-3zM390,230h1v3h-1zM409,235h3v1h-3zM410,234h1v3h-1zM429,239h3v1h-3zM430,238h1v3h-1zM449,234h3v1h-3zM450,233h1v3h-1zM469,230h3v1h-3zM470,229h1v3h-1zM489,229h3v1h-3zM490,228h1v3h-1zM509,229h3v1h-3zM510,228h1v3h-1zM529,229h3v1h-3zM530,228h1v3h-1zM549,229h3v1h-3zM550,228h1v3h-1zM569,229h3v1h-3zM570,228h1v3h-1zM589,228h3v1h-3zM590,227h1v3h-1zM609,226h3v1h-3zM610,225h1v3h-1zM629,222h3v1h-3zM630,221h1v3h-1zM649,215h3v1h-3zM650,214h1v3h-1zM669,208h3v1h-3zM670,207h1v3h-1zM689,206h3v1h-3zM690,205h1v3h-1z" fill="#F06020" stroke="none"/>
<polyline points="50,368.5 70,365.5 90,367.5 110,374.5 130,378.5 150,377.5 170,379.5 190,381.5 210,386.5 230,390.5 250,392.5 270,392.5 290,394.5 310,378.5 330,366.5 350,375.5 370,381.5 390,377.5 410,369.5 430,366.5 450,364.5 470,372.5 490,380.5 510,371.5 530,361.5 550,365.5 570,370.5 590,371.5 610,369.5 630,368.5 650,365.5 670,368.5 690,370.5" stroke="#F06020" transform="translate(0.5,0)"/>
<path d="M49,368h3v1h-3zM50,367h1v3h-1zM69,365h3v1h-3zM70,364h1v3h-1zM89,367h3v1h-3zM90,366h1v3h-1zM109,374h3v1h-3zM110,373h1v3h-1zM129,378h3v1h-3zM130,377h1v3h-1zM149,377h3v1h-3zM150,376h1v3h-1zM169,379h3v1h-3zM170,378h1v3h-1zM189,381h3v1h-3zM190,380h1v3h-1zM209,386h3v1h-3zM210,385h1v3h-1zM229,390h3v1h-3zM230,389h1v3h-1zM249,392h3v1h-3zM250,391h1v3h-1zM269,392h3v1h-3zM270,391h1v3h-1zM289,394h3v1h-3zM290,393h1v3h-1zM309,378h3v1h-3zM310,377h1v3h-1zM329,366h3v1h-3zM330,365h1v3h-1zM349,375h3v1h-3zM350,374h1v3h-1zM369,381h3v1h-3zM370,380h1v3h-1zM389,377h3v1h-3zM390,376h1v3h-1zM409,369h3v1h-3zM410,368h1v3h-1zM429,366h3v1h-3zM430,365h1v3h-1zM449,364h3v1h-3zM450,363h1v3h-1zM469,372h3v1h-3zM470,371h1v3h-1zM489,380h3v1h-3zM490,379h1v3h-1zM509,371h3v1h-3zM510,370h1v3h-1zM529,361h3v1h-3zM530,360h1v3h-1zM549,365h3v1h-3zM550,364h1v3h-1zM569,370h3v1h-3zM570,369h1v3h-1zM589,371h3v1h-3zM590,370h1v3h-1zM609,369h3v1h-3zM610,368h1v3h-1zM629,368h3v1h-3zM630,367h1v3h-1zM649,365h3v1h-3zM650,364h1v3h-1zM669,368h3v1h-3zM670,367h1v3h-1zM689,370h3v1h-3zM690,369h1v3h-1z" fill="#F06020" stroke="none"/>
<polyline points="50,191.5 70,195.5 90,194.5 110,195.5 130,192.5 150,200.5 170,204.5 190,207.5 210,214.5 230,216.5 250,222.5 270,222.5 290,223.5 310,224.5 330,218.5 350,214.5 370,205.5 390,204.5 410,202.5 430,201.5 450,182.5 470,184.5 490,181.5 510,169.5 530,181.5 550,195.5 570,208.5 590,211.5 610,225.5 630,222.5 650,235.5 670,228.5 690,229.5" stroke="#D0C078" transform="translate(0.5,0)"/>
<path d="M49,191h3v1h-3zM50,190h1v3h-1zM69,195h3v1h-3zM70,194h1v3h-1zM89,194h3v1h-3zM90,193h1v3h-1zM109,195h3v1h-3zM110,194h1v3h-1zM129,192h3v1h-3zM130,191h1v3h-1zM149,200h3v1h-3zM150,199h1v3h-1zM169,204h3v1h-3zM170,203h1v3h-1zM189,207h3v1h-3zM190,206h1v3h-1zM209,214h3v1h-3zM210,213h1v3h-1zM229,216h3v1h-3zM230,215h1v3h-1zM249,222h3v1h-3zM250,221h1v3h-1zM269,222h3v1h-3zM270,221h1v3h-1zM289,223h3v1h-3zM290,222h1v3h-1zM309,224h3v1h-3zM310,223h1v3h-1zM329,218h3v1h-3zM330,217h1v3h-1zM349,214h3v1h-3zM350,213h1v3h-1zM369,205h3v1h-3zM370,204h1v3h-1zM389,204h3v1h-3zM390,203h1v3h-1zM409,202h3v1h-3zM410,201h1v3h-1zM429,201h3v1h-3zM430,200h1v3h-1zM449,182h3v1h-3zM450,181h1v3h-1zM469,184h3v1h-3zM470,183h1v3h-1zM489,181h3v1h-3zM490,180h1v3h-1zM509,169h3v1h-3zM510,168h1v3h-1zM529,181h3v1h-3zM530,180h1v3h-1zM549,195h3v1h-3zM550,194h1v3h-1zM569,208h3v1h-3zM570,207h1v3h-1zM589,211h3v1h-3zM590,210h1v3h-1zM609,225h3v1h-3zM610,224h1v3h-1zM629,222h3v1h-3zM630,221h1v3h-1zM649,235h3v1h-3zM650,234h1v3h-1zM669,228h3v1h-3zM670,227h1v3h-1zM689,229h3v1h-3zM690,228h1v3h-1z" fill="#D0C078" stroke="none"/>
<polyline points="50,370.5 70,367.5 90,367.5 110,373.5 130,379.5 150,375.5 170,375.5 190,376.5 210,383.5 230,388.5 250,389.5 270,386.5 290,386.5 310,356.5 330,348.5 350,347.5 370,358.5 390,361.5 410,353.5 430,345.5 450,336.5 470,330.5 490,331.5 510,337.5 530,339.5 550,345.5 570,362.5 590,366.5 610,361.5 630,355.5 650,350.5 670,345.5 690,351.5" stroke="#D0C078" transform="translate(0.5,0)"/>
<path d="M49,370h3v1h-3zM50,369h1v3h-1zM69,367h3v1h-3zM70,366h1v3h-1zM89,367h3v1h-3zM90,366h1v3h-1zM109,373h3v1h-3zM110,372h1v3h-1zM129,379h3v1h-3zM130,378h1v3h-1zM149,375h3v1h-3zM150,374h1v3h-1zM169,375h3v1h-3zM170,374h1v3h-1zM189,376h3v1h-3zM190,375h1v3h-1zM209,383h3v1h-3zM210,382h1v3h-1zM229,388h3v1h-3zM230,387h1v3h-1zM249,389h3v1h-3zM250,388h1v3h-1zM269,386h3v1h-3zM270,385h1v3h-1zM289,386h3v1h-3zM290,385h1v3h-1zM309,356h3v1h-3zM310,355h1v3h-1zM329,348h3v1h-3zM330,347h1v3h-1zM349,347h3v1h-3zM350,346h1v3h-1zM369,358h3v1h-3zM370,357h1v3h-1zM389,361h3v1h-3zM390,360h1v3h-1zM409,353h3v1h-3zM410,352h1v3h-1zM429,345h3v1h-3zM430,344h1v3h-1zM449,336h3v1h-3zM450,335h1v3h-1zM469,330h3v1h-3zM470,329h1v3h-1zM489,331h3v1h-3zM490,330h1v3h-1zM509,337h3v1h-3zM510,336h1v3h-1zM529,339h3v1h-3zM530,338h1v3h-1zM549,345h3v1h-3zM550,344h1v3h-1zM569,362h3v1h-3zM570,361h1v3h-1zM589,366h3v1h-3zM590,365h1v3h-1zM609,361h3v1h-3zM610,360h1v3h-1zM629,355h3v1h-3zM630,354h1v3h-1zM649,350h3v1h-3zM650,349h1v3h-1zM669,345h3v1h-3zM670,344h1v3h-1zM689,351h3v1h-3zM690,350h1v3h-1z" fill="#D0C078" stroke="none"/>
<polyline points="50,193.5 70,195.5 90,195.5 110,191.5 130,194.5 150,197.5 170,199.5 190,205.5 210,209.5 230,216.5 250,222.5 270,219.5 290,225.5 310,227.5 330,220.5 350,208.5 370,199.5 390,194.5 410,194.5 430,192.5 450,180.5 470,172.5 490,166.5 510,171.5 530,181.5 550,190.5 570,198.5 590,200.5 610,212.5 630,218.5 650,219.5 670,218.5 690,206.5" stroke="#08D050" transform="translate(0.5,0)"/>
<path d="M49,193h3v1h-3zM50,192h1v3h-1zM69,195h3v1h-3zM70,194h1v3h-1zM89,195h3v1h-3zM90,194h1v3h-1zM109,191h3v1h-3zM110,190h1v3h-1zM129,194h3v1h-3zM130,193h1v3h-1zM149,197h3v1h-3zM150,196h1v3h-1zM169,199h3v1h-3zM170,198h1v3h-1zM189,205h3v1h-3zM190,204h1v3h-1zM209,209h3v1h-3zM210,208h1v3h-1zM229,216h3v1h-3zM230,215h1v3h-1zM249,222h3v1h-3zM250,221h1v3h-1zM269,219h3v1h-3zM270,218h1v3h-1zM289,225h3v1h-3zM290,224h1v3h-1zM309,227h3v1h-3zM310,226h1v3h-1zM329,220h3v1h-3zM330,219h1v3h-1zM349,208h3v1h-3zM350,207h1v3h-1zM369,199h3v1h-3zM370,198h1v3h-1zM389,194h3v1h-3zM390,193h1v3h-1zM409,194h3v1h-3zM410,193h1v3h-1zM429,192h3v1h-3zM430,191h1v3h-1zM449,180h3v1h-3zM450,179h1v3h-1zM469,172h3v1h-3zM470,171h1v3h-1zM489,166h3v1h-3zM490,165h1v3h-1zM509,171h3v1h-3zM510,170h1v3h-1zM529,181h3v1h-3zM530,180h1v3h-1zM549,190h3v1h-3zM550,189h1v3h-1zM569,198h3v1h-3zM570,197h1v3h-1zM589,200h3v1h-3zM590,199h1v3h-1zM609,212h3v1h-3zM610,211h1v3h-1zM629,218h3v1h-3zM630,217h1v3h-1zM649,219h3v1h-3zM650,218h1v3h-1zM669,218h3v1h-3zM670,217h1v3h-1zM689,206h3v1h-3zM690,205h1v3h-1z" fill="#08D050" stroke="none"/>
<polyline points="50,368.5 70,367.5 90,368.5 110,373.5 130,380.5 150,380.5 170,380.5 190,382.5 210,386.5 230,392.5 250,394.5 270,397.5 290,395.5 310,380.5 330,359.5 350,358.5 370,360.5 390,360.5 410,351.5 430,339.5 450,331.5 470,337.5 490,336.5 510,334.5 530,339.5 550,347.5 570,361.5 590,359.5 610,362.5 630,362.5 650,358.5 670,354.5 690,352.5" stroke="#08D050" transform="translate(0.5,0)"/>
<path d="M49,368h3v1h-3zM50,367h1v3h-1zM69,367h3v1h-3zM70,366h1v3h-1zM89,368h3v1h-3zM90,367h1v3h-1zM109,373h3v1h-3zM110,372h1v3h-1zM129,380h3v1h-3zM130,379h1v3h-1zM149,380h3v1h-3zM150,379h1v3h-1zM169,380h3v1h-3zM170,379h1v3h-1zM189,382h3v1h-3zM190,381h1v3h-1zM209,386h3v1h-3zM210,385h1v3h-1zM229,392h3v1h-3zM230,391h1v3h-1zM249,394h3v1h-3zM250,393h1v3h-1zM269,397h3v1h-3zM270,396h1v3h-1zM289,395h3v1h-3zM290,394h1v3h-1zM309,380h3v1h-3zM310,379h1v3h-1zM329,359h3v1h-3zM330,358h1v3h-1zM349,358h3v1h-3zM350,357h1v3h-1zM369,360h3v1h-3zM370,359h1v3h-1zM389,360h3v1h-3zM390,359h1v3h-1zM409,351h3v1h-3zM410,350h1v3h-1zM429,339h3v1h-3zM430,338h1v3h-1zM449,331h3v1h-3zM450,330h1v3h-1zM469,337h3v1h-3zM470,336h1v3h-1zM489,336h3v1h-3zM490,335h1v3h-1zM509,334h3v1h-3zM510,333h1v3h-1zM529,339h3v1h-3zM530,338h1v3h-1zM549,347h3v1h-3zM550,346h1v3h-1zM569,361h3v1h-3zM570,360h1v3h-1zM589,359h3v1h-3zM590,358h1v3h-1zM609,362h3v1h-3zM610,361h1v3h-1zM629,362h3v1h-3zM630,361h1v3h-1zM649,358h3v1h-3zM650,357h1v3h-1zM669,354h3v1h-3zM670,353h1v3h-1zM689,352h3v1h-3zM690,351h1v3h-1z" fill="#08D050" stroke="none"/>
<polyline points="50,189.5 70,191.5 90,190.5 110,191.5 130,190.5 150,196.5 170,199.5 190,205.5 210,215.5 230,220.5 250,226.5 270,230.5 290,236.5 310,238.5 330,230.5 350,222.5 370,217.5 390,206.5 410,204.5 430,199.5 450,192.5 470,195.5 490,184.5 510,186.5 530,188.5 550,184.5 570,182.5 590,192.5 610,209.5 630,226.5 650,230.5 670,242.5 690,242.5" stroke="#204060" transform="translate(0.5,0)"/>
<path d="M49,189h3v1h-3zM50,188h1v3h-1zM69,191h3v1h-3zM70,190h1v3h-1zM89,190h3v1h-3zM90,189h1v3h-1zM109,191h3v1h-3zM110,190h1v3h-1zM129,190h3v1h-3zM130,189h1v3h-1zM149,196h3v1h-3zM150,195h1v3h-1zM169,199h3v1h-3zM170,198h1v3h-1zM189,205h3v1h-3zM190,204h1v3h-1zM209,215h3v1h-3zM210,214h1v3h-1zM229,220h3v1h-3zM230,219h1v3h-1zM249,226h3v1h-3zM250,225h1v3h-1zM269,230h3v1h-3zM270,229h1v3h-1zM289,236h3v1h-3zM290,235h1v3h-1zM309,238h3v1h-3zM310,237h1v3h-1zM329,230h3v1h-3zM330,229h1v3h-1zM349,222h3v1h-3zM350,221h1v3h-1zM369,217h3v1h-3zM370,216h1v3h-1zM389,206h3v1h-3zM390,205h1v3h-1zM409,204h3v1h-3zM410,203h1v3h-1zM429,199h3v1h-3zM430,198h1v3h-1zM449,192h3v1h-3zM450,191h1v3h-1zM469,195h3v1h-3zM470,194h1v3h-1zM489,184h3v1h-3zM490,183h1v3h-1zM509,186h3v1h-3zM510,185h1v3h-1zM529,188h3v1h-3zM530,187h1v3h-1zM549,184h3v1h-3zM550,183h1v3h-1zM569,182h3v1h-3zM570,181h1v3h-1zM589,192h3v1h-3zM590,191h1v3h-1zM609,209h3v1h-3zM610,208h1v3h-1zM629,226h3v1h-3zM630,225h1v3h-1zM649,230h3v1h-3zM650,229h1v3h-1zM669,242h3v1h-3zM670,241h1v3h-1zM689,242h3v1h-3zM690,241h1v3h-1z" fill="#204060" stroke="none"/>
<polyline points="50,367.5 70,364.5 90,364.5 110,371.5 130,376.5 150,372.5 170,372.5 190,377.5 210,385.5 230,388.5 250,392.5 270,393.5 290,392.5 310,380.5 330,370.5 350,375.5 370,370.5 390,364.5 410,358.5 430,352.5 450,342.5 470,335.5 490,341.5 510,343.5 530,352.5 550,356.5 570,368.5 590,371.5 610,372.5 630,378.5 650,386.5 670,379.5 690,380.5" stroke="#204060" transform="translate(0.5,0)"/>
<path d="M49,367h3v1h-3zM50,366h1v3h-1zM69,364h3v1h-3zM70,363h1v3h-1zM89,364h3v1h-3zM90,363h1v3h-1zM109,371h3v1h-3zM110,370h1v3h-1zM129,376h3v1h-3zM130,375h1v3h-1zM149,372h3v1h-3zM150,371h1v3h-1zM169,372h3v1h-3zM170,371h1v3h-1zM189,377h3v1h-3zM190,376h1v3h-1zM209,385h3v1h-3zM210,384h1v3h-1zM229,388h3v1h-3zM230,387h1v3h-1zM249,392h3v1h-3zM250,391h1v3h-1zM269,393h3v1h-3zM270,392h1v3h-1zM289,392h3v1h-3zM290,391h1v3h-1zM309,380h3v1h-3zM310,379h1v3h-1zM329,370h3v1h-3zM330,369h1v3h-1zM349,375h3v1h-3zM350,374h1v3h-1zM369,370h3v1h-3zM370,369h1v3h-1zM389,364h3v1h-3zM390,363h1v3h-1zM409,358h3v1h-3zM410,357h1v3h-1zM429,352h3v1h-3zM430,351h1v3h-1zM449,342h3v1h-3zM450,341h1v3h-1zM469,335h3v1h-3zM470,334h1v3h-1zM489,341h3v1h-3zM490,340h1v3h-1zM509,343h3v1h-3zM510,342h1v3h-1zM529,352h3v1h-3zM530,351h1v3h-1zM549,356h3v1h-3zM550,355h1v3h-1zM569,368h3v1h-3zM570,367h1v3h-1zM589,371h3v1h-3zM590,370h1v3h-1zM609,372h3v1h-3zM610,371h1v3h-1zM629,378h3v1h-3zM630,377h1v3h-1zM649,386h3v1h-3zM650,385h1v3h-1zM669,379h3v1h-3zM670,378h1v3h-1zM689,380h3v1h-3zM690,379h1v3h-1z" fill="#204060" stroke="none"/>
<polyline points="50,193.5 70,193.5 90,194.5 110,194.5 130,193.5 150,198.5 170,201.5 190,206.5 210,212.5 230,213.5 250,213.5 270,212.5 290,212.5 310,210.5 330,211.5 350,203.5 370,205.5 390,195.5 410,193.5 430,196.5 450,196.5 470,196.5 490,185.5 510,191.5 530,198.5 550,207.5 570,212.5 590,227.5 610,226.5 630,219.5 650,207.5 670,213.5 690,207.5" stroke="#687078" transform="translate(0.5,0)"/>
<path d="M49,193h3v1h-3zM50,192h1v3h-1zM69,193h3v1h-3zM70,192h1v3h-1zM89,194h3v1h-3zM90,193h1v3h-1zM109,194h3v1h-3zM110,193h1v3h-1zM129,193h3v1h-3zM130,192h1v3h-1zM149,198h3v1h-3zM150,197h1v3h-1zM169,201h3v1h-3zM170,200h1v3h-1zM189,206h3v1h-3zM190,205h1v3h-1zM209,212h3v1h-3zM210,211h1v3h-1zM229,213h3v1h-3zM230,212h1v3h-1zM249,213h3v1h-3zM250,212h1v3h-1zM269,212h3v1h-3zM270,211h1v3h-1zM289,212h3v1h-3zM290,211h1v3h-1zM309,210h3v1h-3zM310,209h1v3h-1zM329,211h3v1h-3zM330,210h1v3h-1zM349,203h3v1h-3zM350,202h1v3h-1zM369,205h3v1h-3zM370,204h1v3h-1zM389,195h3v1h-3zM390,194h1v3h-1zM409,193h3v1h-3zM410,192h1v3h-1zM429,196h3v1h-3zM430,195h1v3h-1zM449,196h3v1h-3zM450,195h1v3h-1zM469,196h3v1h-3zM470,195h1v3h-1zM489,185h3v1h-3zM490,184h1v3h-1zM509,191h3v1h-3zM510,190h1v3h-1zM529,198h3v1h-3zM530,197h1v3h-1zM549,207h3v1h-3zM550,206h1v3h-1zM569,212h3v1h-3zM570,211h1v3h-1zM589,227h3v1h-3zM590,226h1v3h-1zM609,226h3v1h-3zM610,225h1v3h-1zM629,219h3v1h-3zM630,218h1v3h-1zM649,207h3v1h-3zM650,206h1v3h-1zM669,213h3v1h-3zM670,212h1v3h-1zM689,207h3v1h-3zM690,206h1v3h-1z" fill="#687078" stroke="none"/>
<polyline points="50,368.5 70,367.5 90,369.5 110,371.5 130,375.5 150,371.5 170,373.5 190,376.5 210,381.5 230,385.5 250,387.5 270,385.5 290,377.5 310,359.5 330,348.5 350,344.5 370,353.5 390,349.5 410,346.5 430,337.5 450,337.5 470,332.5 490,329.5 510,328.5 530,345.5 550,355.5 570,356.5 590,356.5 610,352.5 630,361.5 650,361.5 670,350.5 690,351.5" stroke="#687078" transform="translate(0.5,0)"/>
<path d="M49,368h3v1h-3zM50,367h1v3h-1zM69,367h3v1h-3zM70,366h1v3h-1zM89,369h3v1h-3zM90,368h1v3h-1zM109,371h3v1h-3zM110,370h1v3h-1zM129,375h3v1h-3zM130,374h1v3h-1zM149,371h3v1h-3zM150,370h1v3h-1zM169,373h3v1h-3zM170,372h1v3h-1zM189,376h3v1h-3zM190,375h1v3h-1zM209,381h3v1h-3zM210,380h1v3h-1zM229,385h3v1h-3zM230,384h1v3h-1zM249,387h3v1h-3zM250,386h1v3h-1zM269,385h3v1h-3zM270,384h1v3h-1zM289,377h3v1h-3zM290,376h1v3h-1zM309,359h3v1h-3zM310,358h1v3h-1zM329,348h3v1h-3zM330,347h1v3h-1zM349,344h3v1h-3zM350,343h1v3h-1zM369,353h3v1h-3zM370,352h1v3h-1zM389,349h3v1h-3zM390,348h1v3h-1zM409,346h3v1h-3zM410,345h1v3h-1zM429,337h3v1h-3zM430,336h1v3h-1zM449,337h3v1h-3zM450,336h1v3h-1zM469,332h3v1h-3zM470,331h1v3h-1zM489,329h3v1h-3zM490,328h1v3h-1zM509,328h3v1h-3zM510,327h1v3h-1zM529,345h3v1h-3zM530,344h1v3h-1zM549,355h3v1h-3zM550,354h1v3h-1zM569,356h3v1h-3zM570,355h1v3h-1zM589,356h3v1h-3zM590,355h1v3h-1zM609,352h3v1h-3zM610,351h1v3h-1zM629,361h3v1h-3zM630,360h1v3h-1zM649,361h3v1h-3zM650,360h1v3h-1zM669,350h3v1h-3zM670,349h1v3h-1zM689,351h3v1h-3zM690,350h1v3h-1z" fill="#687078" stroke="none"/>
<polyline points="50,188.5 70,189.5 90,194.5 110,193.5 130,193.5 150,201.5 170,205.5 190,209.5 210,209.5 230,210.5 250,210.5 270,210.5 290,210.5 310,213.5 330,212.5 350,208.5 370,206.5 390,203.5 410,202.5 430,201.5 450,200.5 470,197.5 490,181.5 510,180.5 530,177.5 550,170.5 570,170.5 590,175.5 610,184.5 630,193.5 650,206.5 670,246.5 690,258.5" stroke="#E878F0" transform="translate(0.5,0)"/>
<path d="M49,188h3v1h-3zM50,187h1v3h-1zM69,189h3v1h-3zM70,188h1v3h-1zM89,194h3v1h-3zM90,193h1v3h-1zM109,193h3v1h-3zM110,192h1v3h-1zM129,193h3v1h-3zM130,192h1v3h-1zM149,201h3v1h-3zM150,200h1v3h-1zM169,205h3v1h-3zM170,204h1v3h-1zM189,209h3v1h-3zM190,208h1v3h-1zM209,209h3v1h-3zM210,208h1v3h-1zM229,210h3v1h-3zM230,209h1v3h-1zM249,210h3v1h-3zM250,209h1v3h-1zM269,210h3v1h-3zM270,209h1v3h-1zM289,210h3v1h-3zM290,209h1v3h-1zM309,213h3v1h-3zM310,212h1v3h-1zM329,212h3v1h-3zM330,211h1v3h-1zM349,208h3v1h-3zM350,207h1v3h-1zM369,206h3v1h-3zM370,205h1v3h-1zM389,203h3v1h-3zM390,202h1v3h-1zM409,202h3v1h-3zM410,201h1v3h-1zM429,201h3v1h-3zM430,200h1v3h-1zM449,200h3v1h-3zM450,199h1v3h-1zM469,197h3v1h-3zM470,196h1v3h-1zM489,181h3v1h-3zM490,180h1v3h-1zM509,180h3v1h-3zM510,179h1v3h-1zM529,177h3v1h-3zM530,176h1v3h-1zM549,170h3v1h-3zM550,169h1v3h-1zM569,170h3v1h-3zM570,169h1v3h-1zM589,175h3v1h-3zM590,174h1v3h-1zM609,184h3v1h-3zM610,183h1v3h-1zM629,193h3v1h-3zM630,192h1v3h-1zM649,206h3v1h-3zM650,205h1v3h-1zM669,246h3v1h-3zM670,245h1v3h-1zM689,258h3v1h-3zM690,257h1v3h-1z" fill="#E878F0" stroke="none"/>
<polyline points="50,370.5 70,368.5 90,370.5 110,374.5 130,380.5 150,379.5 170,379.5 190,381.5 210,386.5 230,384.5 250,381.5 270,380.5 290,375.5 310,350.5 330,346.5 350,345.5 370,350.5 390,351.5 410,344.5 430,334.5 450,327.5 470,324.5 490,330.5 510,341.5 530,355.5 550,370.5 570,396.5 590,381.5 610,373.5 630,380.5 650,398.5 670,412.5 690,425.5" stroke="#E878F0" transform="translate(0.5,0)"/>
<path d="M49,370h3v1h-3zM50,369h1v3h-1zM69,368h3v1h-3zM70,367h1v3h-1zM89,370h3v1h-3zM90,369h1v3h-1zM109,374h3v1h-3zM110,373h1v3h-1zM129,380h3v1h-3zM130,379h1v3h-1zM149,379h3v1h-3zM150,378h1v3h-1zM169,379h3v1h-3zM170,378h1v3h-1zM189,381h3v1h-3zM190,380h1v3h-1zM209,386h3v1h-3zM210,385h1v3h-1zM229,384h3v1h-3zM230,383h1v3h-1zM249,381h3v1h-3zM250,380h1v3h-1zM269,380h3v1h-3zM270,379h1v3h-1zM289,375h3v1h-3zM290,374h1v3h-1zM309,350h3v1h-3zM310,349h1v3h-1zM329,346h3v1h-3zM330,345h1v3h-1zM349,345h3v1h-3zM350,344h1v3h-1zM369,350h3v1h-3zM370,349h1v3h-1zM389,351h3v1h-3zM390,350h1v3h-1zM409,344h3v1h-3zM410,343h1v3h-1zM429,334h3v1h-3zM430,333h1v3h-1zM449,327h3v1h-3zM450,326h1v3h-1zM469,324h3v1h-3zM470,323h1v3h-1zM489,330h3v1h-3zM490,329h1v3h-1zM509,341h3v1h-3zM510,340h1v3h-1zM529,355h3v1h-3zM530,354h1v3h-1zM549,370h3v1h-3zM550,369h1v3h-1zM569,396h3v1h-3zM570,395h1v3h-1zM589,381h3v1h-3zM590,380h1v3h-1zM609,373h3v1h-3zM610,372h1v3h-1zM629,380h3v1h-3zM630,379h1v3h-1zM649,398h3v1h-3zM650,397h1v3h-1zM669,412h3v1h-3zM670,411h1v3h-1zM689,425h3v1h-3zM690,424h1v3h-1z" fill="#E878F0" stroke="none"/>
<polyline points="50,196.5 70,200.5 90,197.5 110,194.5 130,183.5 150,192.5 170,198.5 190,206.5 210,212.5 230,217.5 250,220.5 270,231.5 290,233.5 310,234.5 330,230.5 350,228.5 370,225.5 390,221.5 410,218.5 430,212.5 450,213.5 470,215.5 490,214.5 510,214.5 530,216.5 550,215.5 570,220.5 590,222.5 610,221.5 630,218.5 650,212.5 670,201.5 690,196.5" stroke="#8020F0" transform="translate(0.5,0)"/>
<path d="M49,196h3v1h-3zM50,195h1v3h-1zM69,200h3v1h-3zM70,199h1v3h-1zM89,197h3v1h-3zM90,196h1v3h-1zM109,194h3v1h-3zM110,193h1v3h-1zM129,183h3v1h-3zM130,182h1v3h-1zM149,192h3v1h-3zM150,191h1v3h-1zM169,198h3v1h-3zM170,197h1v3h-1zM189,206h3v1h-3zM190,205h1v3h-1zM209,212h3v1h-3zM210,211h1v3h-1zM229,217h3v1h-3zM230,216h1v3h-1zM249,220h3v1h-3zM250,219h1v3h-1zM269,231h3v1h-3zM270,230h1v3h-1zM289,233h3v1h-3zM290,232h1v3h-1zM309,234h3v1h-3zM310,233h1v3h-1zM329,230h3v1h-3zM330,229h1v3h-1zM349,228h3v1h-3zM350,227h1v3h-1zM369,225h3v1h-3zM370,224h1v3h-1zM389,221h3v1h-3zM390,220h1v3h-1zM409,218h3v1h-3zM410,217h1v3h-1zM429,212h3v1h-3zM430,211h1v3h-1zM449,213h3v1h-3zM450,212h1v3h-1zM469,215h3v1h-3zM470,214h1v3h-1zM489,214h3v1h-3zM490,213h1v3h-1zM509,214h3v1h-3zM510,213h1v3h-1zM529,216h3v1h-3zM530,215h1v3h-1zM549,215h3v1h-3zM550,214h1v3h-1zM569,220h3v1h-3zM570,219h1v3h-1zM589,222h3v1h-3zM590,221h1v3h-1zM609,221h3v1h-3zM610,220h1v3h-1zM629,218h3v1h-3zM630,217h1v3h-1zM649,212h3v1h-3zM650,211h1v3h-1zM669,201h3v1h-3zM670,200h1v3h-1zM689,196h3v1h-3zM690,195h1v3h-1z" fill="#8020F0" stroke="none"/>
<polyline points="50,369.5 70,365.5 90,365.5 110,372.5 130,378.5 150,376.5 170,375.5 190,378.5 210,384.5 230,391.5 250,395.5 270,398.5 290,405.5 310,399.5 330,375.5 350,366.5 370,365.5 390,363.5 410,385.5 430,373.5 450,356.5 470,348.5 490,343.5 510,342.5 530,351.5 550,350.5 570,362.5 590,364.5 610,357.5 630,357.5 650,348.5 670,360.5 690,355.5" stroke="#8020F0" transform="translate(0.5,0)"/>
<path d="M49,369h3v1h-3zM50,368h1v3h-1zM69,365h3v1h-3zM70,364h1v3h-1zM89,365h3v1h-3zM90,364h1v3h-1zM109,372h3v1h-3zM110,371h1v3h-1zM129,378h3v1h-3zM130,377h1v3h-1zM149,376h3v1h-3zM150,375h1v3h-1zM169,375h3v1h-3zM170,374h1v3h-1zM189,378h3v1h-3zM190,377h1v3h-1zM209,384h3v1h-3zM210,383h1v3h-1zM229,391h3v1h-3zM230,390h1v3h-1zM249,395h3v1h-3zM250,394h1v3h-1zM269,398h3v1h-3zM270,397h1v3h-1zM289,405h3v1h-3zM290,404h1v3h-1zM309,399h3v1h-3zM310,398h1v3h-1zM329,375h3v1h-3zM330,374h1v3h-1zM349,366h3v1h-3zM350,365h1v3h-1zM369,365h3v1h-3zM370,364h1v3h-1zM389,363h3v1h-3zM390,362h1v3h-1zM409,385h3v1h-3zM410,384h1v3h-1zM429,373h3v1h-3zM430,372h1v3h-1zM449,356h3v1h-3zM450,355h1v3h-1zM469,348h3v1h-3zM470,347h1v3h-1zM489,343h3v1h-3zM490,342h1v3h-1zM509,342h3v1h-3zM510,341h1v3h-1zM529,351h3v1h-3zM530,350h1v3h-1zM549,350h3v1h-3zM550,349h1v3h-1zM569,362h3v1h-3zM570,361h1v3h-1zM589,364h3v1h-3zM590,363h1v3h-1zM609,357h3v1h-3zM610,356h1v3h-1zM629,357h3v1h-3zM630,356h1v3h-1zM649,348h3v1h-3zM650,347h1v3h-1zM669,360h3v1h-3zM670,359h1v3h-1zM689,355h3v1h-3zM690,354h1v3h-1z" fill="#8020F0" stroke="none"/>
<polyline points="50,192.5 70,193.5 90,190.5 110,193.5 130,197.5 150,201.5 170,207.5 190,214.5 210,219.5 230,223.5 250,224.5 270,228.5 290,233.5 310,228.5 330,228.5 350,227.5 370,224.5 390,221.5 410,216.5 430,212.5 450,208.5 470,214.5 490,223.5 510,228.5 530,231.5 550,220.5 570,225.5 590,224.5 610,230.5 630,231.5 650,232.5 670,232.5 690,226.5" stroke="#805828" transform="translate(0.5,0)"/>
<path d="M49,192h3v1h-3zM50,191h1v3h-1zM69,193h3v1h-3zM70,192h1v3h-1zM89,190h3v1h-3zM90,189h1v3h-1zM109,193h3v1h-3zM110,192h1v3h-1zM129,197h3v1h-3zM130,196h1v3h-1zM149,201h3v1h-3zM150,200h1v3h-1zM169,207h3v1h-3zM170,206h1v3h-1zM189,214h3v1h-3zM190,213h1v3h-1zM209,219h3v1h-3zM210,218h1v3h-1zM229,223h3v1h-3zM230,222h1v3h-1zM249,224h3v1h-3zM250,223h1v3h-1zM269,228h3v1h-3zM270,227h1v3h-1zM289,233h3v1h-3zM290,232h1v3h-1zM309,228h3v1h-3zM310,227h1v3h-1zM329,228h3v1h-3zM330,227h1v3h-1zM349,227h3v1h-3zM350,226h1v3h-1zM369,224h3v1h-3zM370,223h1v3h-1zM389,221h3v1h-3zM390,220h1v3h-1zM409,216h3v1h-3zM410,215h1v3h-1zM429,212h3v1h-3zM430,211h1v3h-1zM449,208h3v1h-3zM450,207h1v3h-1zM469,214h3v1h-3zM470,213h1v3h-1zM489,223h3v1h-3zM490,222h1v3h-1zM509,228h3v1h-3zM510,227h1v3h-1zM529,231h3v1h-3zM530,230h1v3h-1zM549,220h3v1h-3zM550,219h1v3h-1zM569,225h3v1h-3zM570,224h1v3h-1zM589,224h3v1h-3zM590,223h1v3h-1zM609,230h3v1h-3zM610,229h1v3h-1zM629,231h3v1h-3zM630,230h1v3h-1zM649,232h3v1h-3zM650,231h1v3h-1zM669,232h3v1h-3zM670,231h1v3h-1zM689,226h3v1h-3zM690,225h1v3h-1z" fill="#805828" stroke="none"/>
<polyline points="50,370.5 70,367.5 90,367.5 110,374.5 130,380.5 150,379.5 170,379.5 190,380.5 210,383.5 230,389.5 250,391.5 270,392.5 290,392.5 310,390.5 330,395.5 350,380.5 370,368.5 390,366.5 410,360.5 430,349.5 450,340.5 470,339.5 490,333.5 510,339.5 530,355.5 550,362.5 570,369.5 590,363.5 610,372.5 630,370.5 650,359.5 670,364.5 690,354.5" stroke="#805828" transform="translate(0.5,0)"/>
<path d="M49,370h3v1h-3zM50,369h1v3h-1zM69,367h3v1h-3zM70,366h1v3h-1zM89,367h3v1h-3zM90,366h1v3h-1zM109,374h3v1h-3zM110,373h1v3h-1zM129,380h3v1h-3zM130,379h1v3h-1zM149,379h3v1h-3zM150,378h1v3h-1zM169,379h3v1h-3zM170,378h1v3h-1zM189,380h3v1h-3zM190,379h1v3h-1zM209,383h3v1h-3zM210,382h1v3h-1zM229,389h3v1h-3zM230,388h1v3h-1zM249,391h3v1h-3zM250,390h1v3h-1zM269,392h3v1h-3zM270,391h1v3h-1zM289,392h3v1h-3zM290,391h1v3h-1zM309,390h3v1h-3zM310,389h1v3h-1zM329,395h3v1h-3zM330,394h1v3h-1zM349,380h3v1h-3zM350,379h1v3h-1zM369,368h3v1h-3zM370,367h1v3h-1zM389,366h3v1h-3zM390,365h1v3h-1zM409,360h3v1h-3zM410,359h1v3h-1zM429,349h3v1h-3zM430,348h1v3h-1zM449,340h3v1h-3zM450,339h1v3h-1zM469,339h3v1h-3zM470,338h1v3h-1zM489,333h3v1h-3zM490,332h1v3h-1zM509,339h3v1h-3zM510,338h1v3h-1zM529,355h3v1h-3zM530,354h1v3h-1zM549,362h3v1h-3zM550,361h1v3h-1zM569,369h3v1h-3zM570,368h1v3h-1zM589,363h3v1h-3zM590,362h1v3h-1zM609,372h3v1h-3zM610,371h1v3h-1zM629,370h3v1h-3zM630,369h1v3h-1zM649,359h3v1h-3zM650,358h1v3h-1zM669,364h3v1h-3zM670,363h1v3h-1zM689,354h3v1h-3zM690,353h1v3h-1z" fill="#805828" stroke="none"/>
<polyline points="50,193.5 70,193.5 90,192.5 110,191.5 130,192.5 150,198.5 170,202.5 190,209.5 210,215.5 230,219.5 250,226.5 270,230.5 290,232.5 310,229.5 330,222.5 350,222.5 370,215.5 390,205.5 410,199.5 430,197.5 450,192.5 470,193.5 490,179.5 510,185.5 530,192.5 550,194.5 570,202.5 590,211.5 610,219.5 630,216.5 650,216.5 670,202.5 690,196.5" stroke="#300870" transform="translate(0.5,0)"/>
<path d="M49,193h3v1h-3zM50,192h1v3h-1zM69,193h3v1h-3zM70,192h1v3h-1zM89,192h3v1h-3zM90,191h1v3h-1zM109,191h3v1h-3zM110,190h1v3h-1zM129,192h3v1h-3zM130,191h1v3h-1zM149,198h3v1h-3zM150,197h1v3h-1zM169,202h3v1h-3zM170,201h1v3h-1zM189,209h3v1h-3zM190,208h1v3h-1zM209,215h3v1h-3zM210,214h1v3h-1zM229,219h3v1h-3zM230,218h1v3h-1zM249,226h3v1h-3zM250,225h1v3h-1zM269,230h3v1h-3zM270,229h1v3h-1zM289,232h3v1h-3zM290,231h1v3h-1zM309,229h3v1h-3zM310,228h1v3h-1zM329,222h3v1h-3zM330,221h1v3h-1zM349,222h3v1h-3zM350,221h1v3h-1zM369,215h3v1h-3zM370,214h1v3h-1zM389,205h3v1h-3zM390,204h1v3h-1zM409,199h3v1h-3zM410,198h1v3h-1zM429,197h3v1h-3zM430,196h1v3h-1zM449,192h3v1h-3zM450,191h1v3h-1zM469,193h3v1h-3zM470,192h1v3h-1zM489,179h3v1h-3zM490,178h1v3h-1zM509,185h3v1h-3zM510,184h1v3h-1zM529,192h3v1h-3zM530,191h1v3h-1zM549,194h3v1h-3zM550,193h1v3h-1zM569,202h3v1h-3zM570,201h1v3h-1zM589,211h3v1h-3zM590,210h1v3h-1zM609,219h3v1h-3zM610,218h1v3h-1zM629,216h3v1h-3zM630,215h1v3h-1zM649,216h3v1h-3zM650,215h1v3h-1zM669,202h3v1h-3zM670,201h1v3h-1zM689,196h3v1h-3zM690,195h1v3h-1z" fill="#300870" stroke="none"/>
<polyline points="50,367.5 70,364.5 90,367.5 110,372.5 130,377.5 150,375.5 170,374.5 190,376.5 210,382.5 230,390.5 250,394.5 270,395.5 290,400.5 310,389.5 330,367.5 350,363.5 370,358.5 390,359.5 410,353.5 430,338.5 450,328.5 470,333.5 490,337.5 510,342.5 530,353.5 550,362.5 570,371.5 590,386.5 610,413.5 630,378.5 650,353.5 670,326.5 690,319.5" stroke="#300870" transform="translate(0.5,0)"/>
<path d="M49,367h3v1h-3zM50,366h1v3h-1zM69,364h3v1h-3zM70,363h1v3h-1zM89,367h3v1h-3zM90,366h1v3h-1zM109,372h3v1h-3zM110,371h1v3h-1zM129,377h3v1h-3zM130,376h1v3h-1zM149,375h3v1h-3zM150,374h1v3h-1zM169,374h3v1h-3zM170,373h1v3h-1zM189,376h3v1h-3zM190,375h1v3h-1zM209,382h3v1h-3zM210,381h1v3h-1zM229,390h3v1h-3zM230,389h1v3h-1zM249,394h3v1h-3zM250,393h1v3h-1zM269,395h3v1h-3zM270,394h1v3h-1zM289,400h3v1h-3zM290,399h1v3h-1zM309,389h3v1h-3zM310,388h1v3h-1zM329,367h3v1h-3zM330,366h1v3h-1zM349,363h3v1h-3zM350,362h1v3h-1zM369,358h3v1h-3zM370,357h1v3h-1zM389,359h3v1h-3zM390,358h1v3h-1zM409,353h3v1h-3zM410,352h1v3h-1zM429,338h3v1h-3zM430,337h1v3h-1zM449,328h3v1h-3zM450,327h1v3h-1zM469,333h3v1h-3zM470,332h1v3h-1zM489,337h3v1h-3zM490,336h1v3h-1zM509,342h3v1h-3zM510,341h1v3h-1zM529,353h3v1h-3zM530,352h1v3h-1zM549,362h3v1h-3zM550,361h1v3h-1zM569,371h3v1h-3zM570,370h1v3h-1zM589,386h3v1h-3zM590,385h1v3h-1zM609,413h3v1h-3zM610,412h1v3h-1zM629,378h3v1h-3zM630,377h1v3h-1zM649,353h3v1h-3zM650,352h1v3h-1zM669,326h3v1h-3zM670,325h1v3h-1zM689,319h3v1h-3zM690,318h1v3h-1z" fill="#300870" stroke="none"/>
<polyline points="50,192.5 70,194.5 90,196.5 110,194.5 130,196.5 150,203.5 170,204.5 190,210.5 210,212.5 230,214.5 250,210.5 270,213.5 290,218.5 310,218.5 330,218.5 350,211.5 370,202.5 390,197.5 410,199.5 430,199.5 450,203.5 470,189.5 490,193.5 510,198.5 530,201.5 550,208.5 570,211.5 590,213.5 610,215.5 630,212.5 650,228.5 670,220.5 690,229.5" stroke="#F0D010" transform="translate(0.5,0)"/>
<path d="M49,192h3v1h-3zM50,191h1v3h-1zM69,194h3v1h-3zM70,193h1v3h-1zM89,196h3v1h-3zM90,195h1v3h-1zM109,194h3v1h-3zM110,193h1v3h-1zM129,196h3v1h-3zM130,195h1v3h-1zM149,203h3v1h-3zM150,202h1v3h-1zM169,204h3v1h-3zM170,203h1v3h-1zM189,210h3v1h-3zM190,209h1v3h-1zM209,212h3v1h-3zM210,211h1v3h-1zM229,214h3v1h-3zM230,213h1v3h-1zM249,210h3v1h-3zM250,209h1v3h-1zM269,213h3v1h-3zM270,212h1v3h-1zM289,218h3v1h-3zM290,217h1v3h-1zM309,218h3v1h-3zM310,217h1v3h-1zM329,218h3v1h-3zM330,217h1v3h-1zM349,211h3v1h-3zM350,210h1v3h-1zM369,202h3v1h-3zM370,201h1v3h-1zM389,197h3v1h-3zM390,196h1v3h-1zM409,199h3v1h-3zM410,198h1v3h-1zM429,199h3v1h-3zM430,198h1v3h-1zM449,203h3v1h-3zM450,202h1v3h-1zM469,189h3v1h-3zM470,188h1v3h-1zM489,193h3v1h-3zM490,192h1v3h-1zM509,198h3v1h-3zM510,197h1v3h-1zM529,201h3v1h-3zM530,200h1v3h-1zM549,208h3v1h-3zM550,207h1v3h-1zM569,211h3v1h-3zM570,210h1v3h-1zM589,213h3v1h-3zM590,212h1v3h-1zM609,215h3v1h-3zM610,214h1v3h-1zM629,212h3v1h-3zM630,211h1v3h-1zM649,228h3v1h-3zM650,227h1v3h-1zM669,220h3v1h-3zM670,219h1v3h-1zM689,229h3v1h-3zM690,228h1v3h-1z" fill="#F0D010" stroke="none"/>
<polyline points="50,367.5 70,364.5 90,364.5 110,370.5 130,376.5 150,373.5 170,372.5 190,375.5 210,382.5 230,386.5 250,388.5 270,388.5 290,390.5 310,376.5 330,359.5 350,356.5 370,357.5 390,357.5 410,346.5 430,343.5 450,328.5 470,325.5 490,328.5 510,332.5 530,343.5 550,360.5 570,375.5 590,380.5 610,376.5 630,380.5 650,375.5 670,371.5 690,378.5" stroke="#F0D010" transform="translate(0.5,0)"/>
<path d="M49,367h3v1h-3zM50,366h1v3h-1zM69,364h3v1h-3zM70,363h1v3h-1zM89,364h3v1h-3zM90,363h1v3h-1zM109,370h3v1h-3zM110,369h1v3h-1zM129,376h3v1h-3zM130,375h1v3h-1zM149,373h3v1h-3zM150,372h1v3h-1zM169,372h3v1h-3zM170,371h1v3h-1zM189,375h3v1h-3zM190,374h1v3h-1zM209,382h3v1h-3zM210,381h1v3h-1zM229,386h3v1h-3zM230,385h1v3h-1zM249,388h3v1h-3zM250,387h1v3h-1zM269,388h3v1h-3zM270,387h1v3h-1zM289,390h3v1h-3zM290,389h1v3h-1zM309,376h3v1h-3zM310,375h1v3h-1zM329,359h3v1h-3zM330,358h1v3h-1zM349,356h3v1h-3zM350,355h1v3h-1zM369,357h3v1h-3zM370,356h1v3h-1zM389,357h3v1h-3zM390,356h1v3h-1zM409,346h3v1h-3zM410,345h1v3h-1zM429,343h3v1h-3zM430,342h1v3h-1zM449,328h3v1h-3zM450,327h1v3h-1zM469,325h3v1h-3zM470,324h1v3h-1zM489,328h3v1h-3zM490,327h1v3h-1zM509,332h3v1h-3zM510,331h1v3h-1zM529,343h3v1h-3zM530,342h1v3h-1zM549,360h3v1h-3zM550,359h1v3h-1zM569,375h3v1h-3zM570,374h1v3h-1zM589,380h3v1h-3zM590,379h1v3h-1zM609,376h3v1h-3zM610,375h1v3h-1zM629,380h3v1h-3zM630,379h1v3h-1zM649,375h3v1h-3zM650,374h1v3h-1zM669,371h3v1h-3zM670,370h1v3h-1zM689,378h3v1h-3zM690,377h1v3h-1z" fill="#F0D010" stroke="none"/>
<polyline points="50,192.5 70,192.5 90,191.5 110,193.5 130,192.5 150,190.5 170,194.5 190,201.5 210,209.5 230,213.5 250,212.5 270,212.5 290,217.5 310,212.5 330,217.5 350,208.5 370,199.5 390,196.5 410,192.5 430,180.5 450,170.5 470,161.5 490,162.5 510,170.5 530,183.5 550,200.5 570,209.5 590,219.5 610,226.5 630,228.5 650,234.5 670,230.5 690,219.5" stroke="#2868A0" transform="translate(0.5,0)"/>
<path d="M49,192h3v1h-3zM50,191h1v3h-1zM69,192h3v1h-3zM70,191h1v3h-1zM89,191h3v1h-3zM90,190h1v3h-1zM109,193h3v1h-3zM110,192h1v3h-1zM129,192h3v1h-3zM130,191h1v3h-1zM149,190h3v1h-3zM150,189h1v3h-1zM169,194h3v1h-3zM170,193h1v3h-1zM189,201h3v1h-3zM190,200h1v3h-1zM209,209h3v1h-3zM210,208h1v3h-1zM229,213h3v1h-3zM230,212h1v3h-1zM249,212h3v1h-3zM250,211h1v3h-1zM269,212h3v1h-3zM270,211h1v3h-1zM289,217h3v1h-3zM290,216h1v3h-1zM309,212h3v1h-3zM310,211h1v3h-1zM329,217h3v1h-3zM330,216h1v3h-1zM349,208h3v1h-3zM350,207h1v3h-1zM369,199h3v1h-3zM370,198h1v3h-1zM389,196h3v1h-3zM390,195h1v3h-1zM409,192h3v1h-3zM410,191h1v3h-1zM429,180h3v1h-3zM430,179h1v3h-1zM449,170h3v1h-3zM450,169h1v3h-1zM469,161h3v1h-3zM470,160h1v3h-1zM489,162h3v1h-3zM490,161h1v3h-1zM509,170h3v1h-3zM510,169h1v3h-1zM529,183h3v1h-3zM530,182h1v3h-1zM549,200h3v1h-3zM550,199h1v3h-1zM569,209h3v1h-3zM570,208h1v3h-1zM589,219h3v1h-3zM590,218h1v3h-1zM609,226h3v1h-3zM610,225h1v3h-1zM629,228h3v1h-3zM630,227h1v3h-1zM649,234h3v1h-3zM650,233h1v3h-1zM669,230h3v1h-3zM670,229h1v3h-1zM689,219h3v1h-3zM690,218h1v3h-1z" fill="#2868A0" stroke="none"/>
<polyline points="50,369.5 70,365.5 90,366.5 110,371.5 130,377.5 150,376.5 170,378.5 190,378.5 210,385.5 230,391.5 250,395.5 270,397.5 290,399.5 310,385.5 330,360.5 350,351.5 370,351.5 390,353.5 410,347.5 430,335.5 450,328.5 470,326.5 490,334.5 510,344.5 530,358.5 550,372.5 570,395.5 590,434.5 610,429.5 630,392.5 650,380.5 670,369.5 690,381.5" stroke="#2868A0" transform="translate(0.5,0)"/>
<path d="M49,369h3v1h-3zM50,368h1v3h-1zM69,365h3v1h-3zM70,364h1v3h-1zM89,366h3v1h-3zM90,365h1v3h-1zM109,371h3v1h-3zM110,370h1v3h-1zM129,377h3v1h-3zM130,376h1v3h-1zM149,376h3v1h-3zM150,375h1v3h-1zM169,378h3v1h-3zM170,377h1v3h-1zM189,378h3v1h-3zM190,377h1v3h-1zM209,385h3v1h-3zM210,384h1v3h-1zM229,391h3v1h-3zM230,390h1v3h-1zM249,395h3v1h-3zM250,394h1v3h-1zM269,397h3v1h-3zM270,396h1v3h-1zM289,399h3v1h-3zM290,398h1v3h-1zM309,385h3v1h-3zM310,384h1v3h-1zM329,360h3v1h-3zM330,359h1v3h-1zM349,351h3v1h-3zM350,350h1v3h-1zM369,351h3v1h-3zM370,350h1v3h-1zM389,353h3v1h-3zM390,352h1v3h-1zM409,347h3v1h-3zM410,346h1v3h-1zM429,335h3v1h-3zM430,334h1v3h-1zM449,328h3v1h-3zM450,327h1v3h-1zM469,326h3v1h-3zM470,325h1v3h-1zM489,334h3v1h-3zM490,333h1v3h-1zM509,344h3v1h-3zM510,343h1v3h-1zM529,358h3v1h-3zM530,357h1v3h-1zM549,372h3v1h-3zM550,371h1v3h-1zM569,395h3v1h-3zM570,394h1v3h-1zM589,434h3v1h-3zM590,433h1v3h-1zM609,429h3v1h-3zM610,428h1v3h-1zM629,392h3v1h-3zM630,391h1v3h-1zM649,380h3v1h-3zM650,379h1v3h-1zM669,369h3v1h-3zM670,368h1v3h-1zM689,381h3v1h-3zM690,380h1v3h-1z" fill="#2868A0" stroke="none"/>
<polyline points="50,188.5 70,189.5 90,187.5 110,187.5 130,187.5 150,198.5 170,200.5 190,205.5 210,216.5 230,216.5 250,215.5 270,212.5 290,212.5 310,209.5 330,208.5 350,201.5 370,198.5 390,195.5 410,193.5 430,189.5 450,196.5 470,185.5 490,190.5 510,197.5 530,210.5 550,220.5 570,238.5 590,240.5 610,233.5 630,208.5 650,193.5 670,181.5 690,176.5" stroke="#905820" transform="translate(0.5,0)"/>
<path d="M49,188h3v1h-3zM50,187h1v3h-1zM69,189h3v1h-3zM70,188h1v3h-1zM89,187h3v1h-3zM90,186h1v3h-1zM109,187h3v1h-3zM110,186h1v3h-1zM129,187h3v1h-3zM130,186h1v3h-1zM149,198h3v1h-3zM150,197h1v3h-1zM169,200h3v1h-3zM170,199h1v3h-1zM189,205h3v1h-3zM190,204h1v3h-1zM209,216h3v1h-3zM210,215h1v3h-1zM229,216h3v1h-3zM230,215h1v3h-1zM249,215h3v1h-3zM250,214h1v3h-1zM269,212h3v1h-3zM270,211h1v3h-1zM289,212h3v1h-3zM290,211h1v3h-1zM309,209h3v1h-3zM310,208h1v3h-1zM329,208h3v1h-3zM330,207h1v3h-1zM349,201h3v1h-3zM350,200h1v3h-1zM369,198h3v1h-3zM370,197h1v3h-1zM389,195h3v1h-3zM390,194h1v3h-1zM409,193h3v1h-3zM410,192h1v3h-1zM429,189h3v1h-3zM430,188h1v3h-1zM449,196h3v1h-3zM450,195h1v3h-1zM469,185h3v1h-3zM470,184h1v3h-1zM489,190h3v1h-3zM490,189h1v3h-1zM509,197h3v1h-3zM510,196h1v3h-1zM529,210h3v1h-3zM530,209h1v3h-1zM549,220h3v1h-3zM550,219h1v3h-1zM569,238h3v1h-3zM570,237h1v3h-1zM589,240h3v1h-3zM590,239h1v3h-1zM609,233h3v1h-3zM610,232h1v3h-1zM629,208h3v1h-3zM630,207h1v3h-1zM649,193h3v1h-3zM650,192h1v3h-1zM669,181h3v1h-3zM670,180h1v3h-1zM689,176h3v1h-3zM690,175h1v3h-1z" fill="#905820" stroke="none"/>
<polyline points="50,368.5 70,366.5 90,366.5 110,372.5 130,375.5 150,375.5 170,375.5 190,377.5 210,383.5 230,387.5 250,386.5 270,384.5 290,381.5 310,390.5 330,385.5 350,374.5 370,368.5 390,358.5 410,345.5 430,334.5 450,328.5 470,335.5 490,331.5 510,333.5 530,341.5 550,349.5 570,356.5 590,349.5 610,344.5 630,344.5 650,355.5 670,346.5 690,338.5" stroke="#905820" transform="translate(0.5,0)"/>
<path d="M49,368h3v1h-3zM50,367h1v3h-1zM69,366h3v1h-3zM70,365h1v3h-1zM89,366h3v1h-3zM90,365h1v3h-1zM109,372h3v1h-3zM110,371h1v3h-1zM129,375h3v1h-3zM130,374h1v3h-1zM149,375h3v1h-3zM150,374h1v3h-1zM169,375h3v1h-3zM170,374h1v3h-1zM189,377h3v1h-3zM190,376h1v3h-1zM209,383h3v1h-3zM210,382h1v3h-1zM229,387h3v1h-3zM230,386h1v3h-1zM249,386h3v1h-3zM250,385h1v3h-1zM269,384h3v1h-3zM270,383h1v3h-1zM289,381h3v1h-3zM290,380h1v3h-1zM309,390h3v1h-3zM310,389h1v3h-1zM329,385h3v1h-3zM330,384h1v3h-1zM349,374h3v1h-3zM350,373h1v3h-1zM369,368h3v1h-3zM370,367h1v3h-1zM389,358h3v1h-3zM390,357h1v3h-1zM409,345h3v1h-3zM410,344h1v3h-1zM429,334h3v1h-3zM430,333h1v3h-1zM449,328h3v1h-3zM450,327h1v3h-1zM469,335h3v1h-3zM470,334h1v3h-1zM489,331h3v1h-3zM490,330h1v3h-1zM509,333h3v1h-3zM510,332h1v3h-1zM529,341h3v1h-3zM530,340h1v3h-1zM549,349h3v1h-3zM550,348h1v3h-1zM569,356h3v1h-3zM570,355h1v3h-1zM589,349h3v1h-3zM590,348h1v3h-1zM609,344h3v1h-3zM610,343h1v3h-1zM629,344h3v1h-3zM630,343h1v3h-1zM649,355h3v1h-3zM650,354h1v3h-1zM669,346h3v1h-3zM670,345h1v3h-1zM689,338h3v1h-3zM690,337h1v3h-1z" fill="#905820" stroke="none"/>
<polyline points="50,192.5 70,197.5 90,194.5 110,196.5 130,194.5 150,199.5 170,205.5 190,215.5 210,219.5 230,221.5 250,222.5 270,220.5 290,225.5 310,223.5 330,216.5 350,213.5 370,204.5 390,198.5 410,194.5 430,201.5 450,207.5 470,200.5 490,182.5 510,185.5 530,192.5 550,202.5 570,211.5 590,218.5 610,227.5 630,230.5 650,228.5 670,220.5 690,215.5" stroke="#9888E8" transform="translate(0.5,0)"/>
<path d="M49,192h3v1h-3zM50,191h1v3h-1zM69,197h3v1h-3zM70,196h1v3h-1zM89,194h3v1h-3zM90,193h1v3h-1zM109,196h3v1h-3zM110,195h1v3h-1zM129,194h3v1h-3zM130,193h1v3h-1zM149,199h3v1h-3zM150,198h1v3h-1zM169,205h3v1h-3zM170,204h1v3h-1zM189,215h3v1h-3zM190,214h1v3h-1zM209,219h3v1h-3zM210,218h1v3h-1zM229,221h3v1h-3zM230,220h1v3h-1zM249,222h3v1h-3zM250,221h1v3h-1zM269,220h3v1h-3zM270,219h1v3h-1zM289,225h3v1h-3zM290,224h1v3h-1zM309,223h3v1h-3zM310,222h1v3h-1zM329,216h3v1h-3zM330,215h1v3h-1zM349,213h3v1h-3zM350,212h1v3h-1zM369,204h3v1h-3zM370,203h1v3h-1zM389,198h3v1h-3zM390,197h1v3h-1zM409,194h3v1h-3zM410,193h1v3h-1zM429,201h3v1h-3zM430,200h1v3h-1zM449,207h3v1h-3zM450,206h1v3h-1zM469,200h3v1h-3zM470,199h1v3h-1zM489,182h3v1h-3zM490,181h1v3h-1zM509,185h3v1h-3zM510,184h1v3h-1zM529,192h3v1h-3zM530,191h1v3h-1zM549,202h3v1h-3zM550,201h1v3h-1zM569,211h3v1h-3zM570,210h1v3h-1zM589,218h3v1h-3zM590,217h1v3h-1zM609,227h3v1h-3zM610,226h1v3h-1zM629,230h3v1h-3zM630,229h1v3h-1zM649,228h3v1h-3zM650,227h1v3h-1zM669,220h3v1h-3zM670,219h1v3h-1zM689,215h3v1h-3zM690,214h1v3h-1z" fill="#9888E8" stroke="none"/>
<polyline points="50,369.5 70,365.5 90,367.5 110,374.5 130,380.5 150,378.5 170,376.5 190,378.5 210,383.5 230,388.5 250,389.5 270,392.5 290,387.5 310,367.5 330,353.5 350,354.5 370,354.5 390,359.5 410,348.5 430,348.5 450,350.5 470,349.5 490,348.5 510,349.5 530,359.5 550,367.5 570,375.5 590,377.5 610,377.5 630,364.5 650,361.5 670,370.5 690,350.5" stroke="#9888E8" transform="translate(0.5,0)"/>
<path d="M49,369h3v1h-3zM50,368h1v3h-1zM69,365h3v1h-3zM70,364h1v3h-1zM89,367h3v1h-3zM90,366h1v3h-1zM109,374h3v1h-3zM110,373h1v3h-1zM129,380h3v1h-3zM130,379h1v3h-1zM149,378h3v1h-3zM150,377h1v3h-1zM169,376h3v1h-3zM170,375h1v3h-1zM189,378h3v1h-3zM190,377h1v3h-1zM209,383h3v1h-3zM210,382h1v3h-1zM229,388h3v1h-3zM230,387h1v3h-1zM249,389h3v1h-3zM250,388h1v3h-1zM269,392h3v1h-3zM270,391h1v3h-1zM289,387h3v1h-3zM290,386h1v3h-1zM309,367h3v1h-3zM310,366h1v3h-1zM329,353h3v1h-3zM330,352h1v3h-1zM349,354h3v1h-3zM350,353h1v3h-1zM369,354h3v1h-3zM370,353h1v3h-1zM389,359h3v1h-3zM390,358h1v3h-1zM409,348h3v1h-3zM410,347h1v3h-1zM429,348h3v1h-3zM430,347h1v3h-1zM449,350h3v1h-3zM450,349h1v3h-1zM469,349h3v1h-3zM470,348h1v3h-1zM489,348h3v1h-3zM490,347h1v3h-1zM509,349h3v1h-3zM510,348h1v3h-1zM529,359h3v1h-3zM530,358h1v3h-1zM549,367h3v1h-3zM550,366h1v3h-1zM569,375h3v1h-3zM570,374h1v3h-1zM589,377h3v1h-3zM590,376h1v3h-1zM609,377h3v1h-3zM610,376h1v3h-1zM629,364h3v1h-3zM630,363h1v3h-1zM649,361h3v1h-3zM650,360h1v3h-1zM669,370h3v1h-3zM670,369h1v3h-1zM689,350h3v1h-3zM690,349h1v3h-1z" fill="#9888E8" stroke="none"/>
<polyline points="50,196.5 70,197.5 90,195.5 110,193.5 130,191.5 150,194.5 170,196.5 190,201.5 210,208.5 230,213.5 250,217.5 270,221.5 290,218.5 310,220.5 330,219.5 350,211.5 370,208.5 390,207.5 410,210.5 430,214.5 450,218.5 470,214.5 490,214.5 510,212.5 530,210.5 550,204.5 570,200.5 590,199.5 610,198.5 630,199.5 650,200.5 670,199.5 690,200.5" stroke="#A0F040" transform="translate(0.5,0)"/>
<path d="M49,196h3v1h-3zM50,195h1v3h-1zM69,197h3v1h-3zM70,196h1v3h-1zM89,195h3v1h-3zM90,194h1v3h-1zM109,193h3v1h-3zM110,192h1v3h-1zM129,191h3v1h-3zM130,190h1v3h-1zM149,194h3v1h-3zM150,193h1v3h-1zM169,196h3v1h-3zM170,195h1v3h-1zM189,201h3v1h-3zM190,200h1v3h-1zM209,208h3v1h-3zM210,207h1v3h-1zM229,213h3v1h-3zM230,212h1v3h-1zM249,217h3v1h-3zM250,216h1v3h-1zM269,221h3v1h-3zM270,220h1v3h-1zM289,218h3v1h-3zM290,217h1v3h-1zM309,220h3v1h-3zM310,219h1v3h-1zM329,219h3v1h-3zM330,218h1v3h-1zM349,211h3v1h-3zM350,210h1v3h-1zM369,208h3v1h-3zM370,207h1v3h-1zM389,207h3v1h-3zM390,206h1v3h-1zM409,210h3v1h-3zM410,209h1v3h-1zM429,214h3v1h-3zM430,213h1v3h-1zM449,218h3v1h-3zM450,217h1v3h-1zM469,214h3v1h-3zM470,213h1v3h-1zM489,214h3v1h-3zM490,213h1v3h-1zM509,212h3v1h-3zM510,211h1v3h-1zM529,210h3v1h-3zM530,209h1v3h-1zM549,204h3v1h-3zM550,203h1v3h-1zM569,200h3v1h-3zM570,199h1v3h-1zM589,199h3v1h-3zM590,198h1v3h-1zM609,198h3v1h-3zM610,197h1v3h-1zM629,199h3v1h-3zM630,198h1v3h-1zM649,200h3v1h-3zM650,199h1v3h-1zM669,199h3v1h-3zM670,198h1v3h-1zM689,200h3v1h-3zM690,199h1v3h-1z" fill="#A0F040" stroke="none"/>
<polyline points="50,370.5 70,367.5 90,367.5 110,371.5 130,375.5 150,374.5 170,376.5 190,380.5 210,385.5 230,388.5 250,390.5 270,389.5 290,384.5 310,365.5 330,346.5 350,353.5 370,361.5 390,370.5 410,371.5 430,381.5 450,370.5 470,359.5 490,344.5 510,340.5 530,343.5 550,347.5 570,351.5 590,350.5 610,344.5 630,344.5 650,346.5 670,345.5 690,339.5" stroke="#A0F040" transform="translate(0.5,0)"/>
<path d="M49,370h3v1h-3zM50,369h1v3h-1zM69,367h3v1h-3zM70,366h1v3h-1zM89,367h3v1h-3zM90,366h1v3h-1zM109,371h3v1h-3zM110,370h1v3h-1zM129,375h3v1h-3zM130,374h1v3h-1zM149,374h3v1h-3zM150,373h1v3h-1zM169,376h3v1h-3zM170,375h1v3h-1zM189,380h3v1h-3zM190,379h1v3h-1zM209,385h3v1h-3zM210,384h1v3h-1zM229,388h3v1h-3zM230,387h1v3h-1zM249,390h3v1h-3zM250,389h1v3h-1zM269,389h3v1h-3zM270,388h1v3h-1zM289,384h3v1h-3zM290,383h1v3h-1zM309,365h3v1h-3zM310,364h1v3h-1zM329,346h3v1h-3zM330,345h1v3h-1zM349,353h3v1h-3zM350,352h1v3h-1zM369,361h3v1h-3zM370,360h1v3h-1zM389,370h3v1h-3zM390,369h1v3h-1zM409,371h3v1h-3zM410,370h1v3h-1zM429,381h3v1h-3zM430,380h1v3h-1zM449,370h3v1h-3zM450,369h1v3h-1zM469,359h3v1h-3zM470,358h1v3h-1zM489,344h3v1h-3zM490,343h1v3h-1zM509,340h3v1h-3zM510,339h1v3h-1zM529,343h3v1h-3zM530,342h1v3h-1zM549,347h3v1h-3zM550,346h1v3h-1zM569,351h3v1h-3zM570,350h1v3h-1zM589,350h3v1h-3zM590,349h1v3h-1zM609,344h3v1h-3zM610,343h1v3h-1zM629,344h3v1h-3zM630,343h1v3h-1zM649,346h3v1h-3zM650,345h1v3h-1zM669,345h3v1h-3zM670,344h1v3h-1zM689,339h3v1h-3zM690,338h1v3h-1z" fill="#A0F040" stroke="none"/>
<polyline points="50,189.5 70,190.5 90,191.5 110,189.5 130,186.5 150,193.5 170,198.5 190,207.5 210,217.5 230,222.5 250,228.5 270,233.5 290,231.5 310,228.5 330,223.5 350,223.5 370,215.5 390,218.5 410,203.5 430,208.5 450,203.5 470,198.5 490,190.5 510,185.5 530,183.5 550,192.5 570,207.5 590,222.5 610,223.5 630,219.5 650,212.5 670,202.5 690,215.5" stroke="#D070D0" transform="translate(0.5,0)"/>
<path d="M49,189h3v1h-3zM50,188h1v3h-1zM69,190h3v1h-3zM70,189h1v3h-1zM89,191h3v1h-3zM90,190h1v3h-1zM109,189h3v1h-3zM110,188h1v3h-1zM129,186h3v1h-3zM130,185h1v3h-1zM149,193h3v1h-3zM150,192h1v3h-1zM169,198h3v1h-3zM170,197h1v3h-1zM189,207h3v1h-3zM190,206h1v3h-1zM209,217h3v1h-3zM210,216h1v3h-1zM229,222h3v1h-3zM230,221h1v3h-1zM249,228h3v1h-3zM250,227h1v3h-1zM269,233h3v1h-3zM270,232h1v3h-1zM289,231h3v1h-3zM290,230h1v3h-1zM309,228h3v1h-3zM310,227h1v3h-1zM329,223h3v1h-3zM330,222h1v3h-1zM349,223h3v1h-3zM350,222h1v3h-1zM369,215h3v1h-3zM370,214h1v3h-1zM389,218h3v1h-3zM390,217h1v3h-1zM409,203h3v1h-3zM410,202h1v3h-1zM429,208h3v1h-3zM430,207h1v3h-1zM449,203h3v1h-3zM450,202h1v3h-1zM469,198h3v1h-3zM470,197h1v3h-1zM489,190h3v1h-3zM490,189h1v3h-1zM509,185h3v1h-3zM510,184h1v3h-1zM529,183h3v1h-3zM530,182h1v3h-1zM549,192h3v1h-3zM550,191h1v3h-1zM569,207h3v1h-3zM570,206h1v3h-1zM589,222h3v1h-3zM590,221h1v3h-1zM609,223h3v1h-3zM610,222h1v3h-1zM629,219h3v1h-3zM630,218h1v3h-1zM649,212h3v1h-3zM650,211h1v3h-1zM669,202h3v1h-3zM670,201h1v3h-1zM689,215h3v1h-3zM690,214h1v3h-1z" fill="#D070D0" stroke="none"/>
<polyline points="50,368.5 70,365.5 90,368.5 110,374.5 130,378.5 150,374.5 170,374.5 190,378.5 210,382.5 230,389.5 250,385.5 270,379.5 290,372.5 310,352.5 330,346.5 350,342.5 370,348.5 390,357.5 410,351.5 430,345.5 450,334.5 470,337.5 490,339.5 510,341.5 530,346.5 550,349.5 570,352.5 590,359.5 610,361.5 630,366.5 650,374.5 670,371.5 690,371.5" stroke="#D070D0" transform="translate(0.5,0)"/>
<path d="M49,368h3v1h-3zM50,367h1v3h-1zM69,365h3v1h-3zM70,364h1v3h-1zM89,368h3v1h-3zM90,367h1v3h-1zM109,374h3v1h-3zM110,373h1v3h-1zM129,378h3v1h-3zM130,377h1v3h-1zM149,374h3v1h-3zM150,373h1v3h-1zM169,374h3v1h-3zM170,373h1v3h-1zM189,378h3v1h-3zM190,377h1v3h-1zM209,382h3v1h-3zM210,381h1v3h-1zM229,389h3v1h-3zM230,388h1v3h-1zM249,385h3v1h-3zM250,384h1v3h-1zM269,379h3v1h-3zM270,378h1v3h-1zM289,372h3v1h-3zM290,371h1v3h-1zM309,352h3v1h-3zM310,351h1v3h-1zM329,346h3v1h-3zM330,345h1v3h-1zM349,342h3v1h-3zM350,341h1v3h-1zM369,348h3v1h-3zM370,347h1v3h-1zM389,357h3v1h-3zM390,356h1v3h-1zM409,351h3v1h-3zM410,350h1v3h-1zM429,345h3v1h-3zM430,344h1v3h-1zM449,334h3v1h-3zM450,333h1v3h-1zM469,337h3v1h-3zM470,336h1v3h-1zM489,339h3v1h-3zM490,338h1v3h-1zM509,341h3v1h-3zM510,340h1v3h-1zM529,346h3v1h-3zM530,345h1v3h-1zM549,349h3v1h-3zM550,348h1v3h-1zM569,352h3v1h-3zM570,351h1v3h-1zM589,359h3v1h-3zM590,358h1v3h-1zM609,361h3v1h-3zM610,360h1v3h-1zM629,366h3v1h-3zM630,365h1v3h-1zM649,374h3v1h-3zM650,373h1v3h-1zM669,371h3v1h-3zM670,370h1v3h-1zM689,371h3v1h-3zM690,370h1v3h-1z" fill="#D070D0" stroke="none"/>
<polyline points="50,189.5 70,189.5 90,188.5 110,186.5 130,185.5 150,193.5 170,195.5 190,204.5 210,209.5 230,212.5 250,212.5 270,213.5 290,215.5 310,214.5 330,204.5 350,196.5 370,194.5 390,194.5 410,195.5 430,198.5 450,195.5 470,192.5 490,189.5 510,195.5 530,199.5 550,201.5 570,204.5 590,202.5 610,200.5 630,198.5 650,197.5 670,195.5 690,190.5" stroke="#1808A0" transform="translate(0.5,0)"/>
<path d="M49,189h3v1h-3zM50,188h1v3h-1zM69,189h3v1h-3zM70,188h1v3h-1zM89,188h3v1h-3zM90,187h1v3h-1zM109,186h3v1h-3zM110,185h1v3h-1zM129,185h3v1h-3zM130,184h1v3h-1zM149,193h3v1h-3zM150,192h1v3h-1zM169,195h3v1h-3zM170,194h1v3h-1zM189,204h3v1h-3zM190,203h1v3h-1zM209,209h3v1h-3zM210,208h1v3h-1zM229,212h3v1h-3zM230,211h1v3h-1zM249,212h3v1h-3zM250,211h1v3h-1zM269,213h3v1h-3zM270,212h1v3h-1zM289,215h3v1h-3zM290,214h1v3h-1zM309,214h3v1h-3zM310,213h1v3h-1zM329,204h3v1h-3zM330,203h1v3h-1zM349,196h3v1h-3zM350,195h1v3h-1zM369,194h3v1h-3zM370,193h1v3h-1zM389,194h3v1h-3zM390,193h1v3h-1zM409,195h3v1h-3zM410,194h1v3h-1zM429,198h3v1h-3zM430,197h1v3h-1zM449,195h3v1h-3zM450,194h1v3h-1zM469,192h3v1h-3zM470,191h1v3h-1zM489,189h3v1h-3zM490,188h1v3h-1zM509,195h3v1h-3zM510,194h1v3h-1zM529,199h3v1h-3zM530,198h1v3h-1zM549,201h3v1h-3zM550,200h1v3h-1zM569,204h3v1h-3zM570,203h1v3h-1zM589,202h3v1h-3zM590,201h1v3h-1zM609,200h3v1h-3zM610,199h1v3h-1zM629,198h3v1h-3zM630,197h1v3h-1zM649,197h3v1h-3zM650,196h1v3h-1zM669,195h3v1h-3zM670,194h1v3h-1zM689,190h3v1h-3zM690,189h1v3h-1z" fill="#1808A0" stroke="none"/>
<polyline points="50,371.5 70,367.5 90,368.5 110,373.5 130,378.5 150,377.5 170,376.5 190,377.5 210,382.5 230,385.5 250,387.5 270,385.5 290,364.5 310,345.5 330,343.5 350,350.5 370,354.5 390,358.5 410,353.5 430,347.5 450,333.5 470,334.5 490,336.5 510,334.5 530,344.5 550,356.5 570,367.5 590,363.5 610,359.5 630,352.5 650,346.5 670,350.5 690,350.5" stroke="#1808A0" transform="translate(0.5,0)"/>
<path d="M49,371h3v1h-3zM50,370h1v3h-1zM69,367h3v1h-3zM70,366h1v3h-1zM89,368h3v1h-3zM90,367h1v3h-1zM109,373h3v1h-3zM110,372h1v3h-1zM129,378h3v1h-3zM130,377h1v3h-1zM149,377h3v1h-3zM150,376h1v3h-1zM169,376h3v1h-3zM170,375h1v3h-1zM189,377h3v1h-3zM190,376h1v3h-1zM209,382h3v1h-3zM210,381h1v3h-1zM229,385h3v1h-3zM230,384h1v3h-1zM249,387h3v1h-3zM250,386h1v3h-1zM269,385h3v1h-3zM270,384h1v3h-1zM289,364h3v1h-3zM290,363h1v3h-1zM309,345h3v1h-3zM310,344h1v3h-1zM329,343h3v1h-3zM330,342h1v3h-1zM349,350h3v1h-3zM350,349h1v3h-1zM369,354h3v1h-3zM370,353h1v3h-1zM389,358h3v1h-3zM390,357h1v3h-1zM409,353h3v1h-3zM410,352h1v3h-1zM429,347h3v1h-3zM430,346h1v3h-1zM449,333h3v1h-3zM450,332h1v3h-1zM469,334h3v1h-3zM470,333h1v3h-1zM489,336h3v1h-3zM490,335h1v3h-1zM509,334h3v1h-3zM510,333h1v3h-1zM529,344h3v1h-3zM530,343h1v3h-1zM549,356h3v1h-3zM550,355h1v3h-1zM569,367h3v1h-3zM570,366h1v3h-1zM589,363h3v1h-3zM590,362h1v3h-1zM609,359h3v1h-3zM610,358h1v3h-1zM629,352h3v1h-3zM630,351h1v3h-1zM649,346h3v1h-3zM650,345h1v3h-1zM669,350h3v1h-3zM670,349h1v3h-1zM689,350h3v1h-3zM690,349h1v3h-1z" fill="#1808A0" stroke="none"/>
<polyline points="50,189.5 70,189.5 90,188.5 110,189.5 130,189.5 150,193.5 170,192.5 190,203.5 210,210.5 230,215.5 250,221.5 270,224.5 290,227.5 310,235.5 330,231.5 350,225.5 370,222.5 390,226.5 410,222.5 430,220.5 450,214.5 470,214.5 490,219.5 510,217.5 530,218.5 550,220.5 570,222.5 590,226.5 610,229.5 630,226.5 650,224.5 670,225.5 690,226.5" stroke="#E8D0A8" transform="translate(0.5,0)"/>
<path d="M49,189h3v1h-3zM50,188h1v3h-1zM69,189h3v1h-3zM70,188h1v3h-1zM89,188h3v1h-3zM90,187h1v3h-1zM109,189h3v1h-3zM110,188h1v3h-1zM129,189h3v1h-3zM130,188h1v3h-1zM149,193h3v1h-3zM150,192h1v3h-1zM169,192h3v1h-3zM170,191h1v3h-1zM189,203h3v1h-3zM190,202h1v3h-1zM209,210h3v1h-3zM210,209h1v3h-1zM229,215h3v1h-3zM230,214h1v3h-1zM249,221h3v1h-3zM250,220h1v3h-1zM269,224h3v1h-3zM270,223h1v3h-1zM289,227h3v1h-3zM290,226h1v3h-1zM309,235h3v1h-3zM310,234h1v3h-1zM329,231h3v1h-3zM330,230h1v3h-1zM349,225h3v1h-3zM350,224h1v3h-1zM369,222h3v1h-3zM370,221h1v3h-1zM389,226h3v1h-3zM390,225h1v3h-1zM409,222h3v1h-3zM410,221h1v3h-1zM429,220h3v1h-3zM430,219h1v3h-1zM449,214h3v1h-3zM450,213h1v3h-1zM469,214h3v1h-3zM470,213h1v3h-1zM489,219h3v1h-3zM490,218h1v3h-1zM509,217h3v1h-3zM510,216h1v3h-1zM529,218h3v1h-3zM530,217h1v3h-1zM549,220h3v1h-3zM550,219h1v3h-1zM569,222h3v1h-3zM570,221h1v3h-1zM589,226h3v1h-3zM590,225h1v3h-1zM609,229h3v1h-3zM610,228h1v3h-1zM629,226h3v1h-3zM630,225h1v3h-1zM649,224h3v1h-3zM650,223h1v3h-1zM669,225h3v1h-3zM670,224h1v3h-1zM689,226h3v1h-3zM690,225h1v3h-1z" fill="#E8D0A8" stroke="none"/>
<polyline points="50,371.5 70,368.5 90,369.5 110,375.5 130,379.5 150,378.5 170,375.5 190,379.5 210,382.5 230,386.5 250,386.5 270,384.5 290,360.5 310,372.5 330,399.5 350,394.5 370,392.5 390,371.5 410,363.5 430,355.5 450,348.5 470,343.5 490,341.5 510,343.5 530,353.5 550,362.5 570,365.5 590,365.5 610,366.5 630,360.5 650,358.5 670,363.5 690,364.5" stroke="#E8D0A8" transform="translate(0.5,0)"/>
<path d="M49,371h3v1h-3zM50,370h1v3h-1zM69,368h3v1h-3zM70,367h1v3h-1zM89,369h3v1h-3zM90,368h1v3h-1zM109,375h3v1h-3zM110,374h1v3h-1zM129,379h3v1h-3zM130,378h1v3h-1zM149,378h3v1h-3zM150,377h1v3h-1zM169,375h3v1h-3zM170,374h1v3h-1zM189,379h3v1h-3zM190,378h1v3h-1zM209,382h3v1h-3zM210,381h1v3h-1zM229,386h3v1h-3zM230,385h1v3h-1zM249,386h3v1h-3zM250,385h1v3h-1zM269,384h3v1h-3zM270,383h1v3h-1zM289,360h3v1h-3zM290,359h1v3h-1zM309,372h3v1h-3zM310,371h1v3h-1zM329,399h3v1h-3zM330,398h1v3h-1zM349,394h3v1h-3zM350,393h1v3h-1zM369,392h3v1h-3zM370,391h1v3h-1zM389,371h3v1h-3zM390,370h1v3h-1zM409,363h3v1h-3zM410,362h1v3h-1zM429,355h3v1h-3zM430,354h1v3h-1zM449,348h3v1h-3zM450,347h1v3h-1zM469,343h3v1h-3zM470,342h1v3h-1zM489,341h3v1h-3zM490,340h1v3h-1zM509,343h3v1h-3zM510,342h1v3h-1zM529,353h3v1h-3zM530,352h1v3h-1zM549,362h3v1h-3zM550,361h1v3h-1zM569,365h3v1h-3zM570,364h1v3h-1zM589,365h3v1h-3zM590,364h1v3h-1zM609,366h3v1h-3zM610,365h1v3h-1zM629,360h3v1h-3zM630,359h1v3h-1zM649,358h3v1h-3zM650,357h1v3h-1zM669,363h3v1h-3zM670,362h1v3h-1zM689,364h3v1h-3zM690,363h1v3h-1z" fill="#E8D0A8" stroke="none"/>
<polyline points="50,189.5 70,192.5 90,185.5 110,191.5 130,197.5 150,204.5 170,205.5 190,210.5 210,213.5 230,216.5 250,214.5 270,211.5 290,212.5 310,211.5 330,206.5 350,199.5 370,196.5 390,195.5 410,200.5 430,205.5 450,209.5 470,212.5 490,209.5 510,208.5 530,208.5 550,220.5 570,215.5 590,210.5 610,206.5 630,199.5 650,196.5 670,197.5 690,200.5" stroke="#880810" transform="translate(0.5,0)"/>
<path d="M49,189h3v1h-3zM50,188h1v3h-1zM69,192h3v1h-3zM70,191h1v3h-1zM89,185h3v1h-3zM90,184h1v3h-1zM109,191h3v1h-3zM110,190h1v3h-1zM129,197h3v1h-3zM130,196h1v3h-1zM149,204h3v1h-3zM150,203h1v3h-1zM169,205h3v1h-3zM170,204h1v3h-1zM189,210h3v1h-3zM190,209h1v3h-1zM209,213h3v1h-3zM210,212h1v3h-1zM229,216h3v1h-3zM230,215h1v3h-1zM249,214h3v1h-3zM250,213h1v3h-1zM269,211h3v1h-3zM270,210h1v3h-1zM289,212h3v1h-3zM290,211h1v3h-1zM309,211h3v1h-3zM310,210h1v3h-1zM329,206h3v1h-3zM330,205h1v3h-1zM349,199h3v1h-3zM350,198h1v3h-1zM369,196h3v1h-3zM370,195h1v3h-1zM389,195h3v1h-3zM390,194h1v3h-1zM409,200h3v1h-3zM410,199h1v3h-1zM429,205h3v1h-3zM430,204h1v3h-1zM449,209h3v1h-3zM450,208h1v3h-1zM469,212h3v1h-3zM470,211h1v3h-1zM489,209h3v1h-3zM490,208h1v3h-1zM509,208h3v1h-3zM510,207h1v3h-1zM529,208h3v1h-3zM530,207h1v3h-1zM549,220h3v1h-3zM550,219h1v3h-1zM569,215h3v1h-3zM570,214h1v3h-1zM589,210h3v1h-3zM590,209h1v3h-1zM609,206h3v1h-3zM610,205h1v3h-1zM629,199h3v1h-3zM630,198h1v3h-1zM649,196h3v1h-3zM650,195h1v3h-1zM669,197h3v1h-3zM670,196h1v3h-1zM689,200h3v1h-3zM690,199h1v3h-1z" fill="#880810" stroke="none"/>
<polyline points="50,367.5 70,364.5 90,364.5 110,369.5 130,375.5 150,377.5 170,380.5 190,381.5 210,387.5 230,392.5 250,395.5 270,394.5 290,394.5 310,372.5 330,362.5 350,361.5 370,366.5 390,374.5 410,376.5 430,359.5 450,343.5 470,351.5 490,340.5 510,347.5 530,361.5 550,356.5 570,347.5 590,335.5 610,335.5 630,329.5 650,332.5 670,334.5 690,341.5" stroke="#880810" transform="translate(0.5,0)"/>
<path d="M49,367h3v1h-3zM50,366h1v3h-1zM69,364h3v1h-3zM70,363h1v3h-1zM89,364h3v1h-3zM90,363h1v3h-1zM109,369h3v1h-3zM110,368h1v3h-1zM129,375h3v1h-3zM130,374h1v3h-1zM149,377h3v1h-3zM150,376h1v3h-1zM169,380h3v1h-3zM170,379h1v3h-1zM189,381h3v1h-3zM190,380h1v3h-1zM209,387h3v1h-3zM210,386h1v3h-1zM229,392h3v1h-3zM230,391h1v3h-1zM249,395h3v1h-3zM250,394h1v3h-1zM269,394h3v1h-3zM270,393h1v3h-1zM289,394h3v1h-3zM290,393h1v3h-1zM309,372h3v1h-3zM310,371h1v3h-1zM329,362h3v1h-3zM330,361h1v3h-1zM349,361h3v1h-3zM350,360h1v3h-1zM369,366h3v1h-3zM370,365h1v3h-1zM389,374h3v1h-3zM390,373h1v3h-1zM409,376h3v1h-3zM410,375h1v3h-1zM429,359h3v1h-3zM430,358h1v3h-1zM449,343h3v1h-3zM450,342h1v3h-1zM469,351h3v1h-3zM470,350h1v3h-1zM489,340h3v1h-3zM490,339h1v3h-1zM509,347h3v1h-3zM510,346h1v3h-1zM529,361h3v1h-3zM530,360h1v3h-1zM549,356h3v1h-3zM550,355h1v3h-1zM569,347h3v1h-3zM570,346h1v3h-1zM589,335h3v1h-3zM590,334h1v3h-1zM609,335h3v1h-3zM610,334h1v3h-1zM629,329h3v1h-3zM630,328h1v3h-1zM649,332h3v1h-3zM650,331h1v3h-1zM669,334h3v1h-3zM670,333h1v3h-1zM689,341h3v1h-3zM690,340h1v3h-1z" fill="#880810" stroke="none"/>
<polyline points="50,195.5 70,200.5 90,199.5 110,199.5 130,199.5 150,204.5 170,207.5 190,216.5 210,219.5 230,220.5 250,227.5 270,228.5 290,222.5 310,223.5 330,219.5 350,214.5 370,211.5 390,201.5 410,193.5 430,188.5 450,172.5 470,162.5 490,161.5 510,168.5 530,182.5 550,194.5 570,209.5 590,226.5 610,235.5 630,235.5 650,235.5 670,235.5 690,235.5" stroke="#0838B0" transform="translate(0.5,0)"/>
<path d="M49,195h3v1h-3zM50,194h1v3h-1zM69,200h3v1h-3zM70,199h1v3h-1zM89,199h3v1h-3zM90,198h1v3h-1zM109,199h3v1h-3zM110,198h1v3h-1zM129,199h3v1h-3zM130,198h1v3h-1zM149,204h3v1h-3zM150,203h1v3h-1zM169,207h3v1h-3zM170,206h1v3h-1zM189,216h3v1h-3zM190,215h1v3h-1zM209,219h3v1h-3zM210,218h1v3h-1zM229,220h3v1h-3zM230,219h1v3h-1zM249,227h3v1h-3zM250,226h1v3h-1zM269,228h3v1h-3zM270,227h1v3h-1zM289,222h3v1h-3zM290,221h1v3h-1zM309,223h3v1h-3zM310,222h1v3h-1zM329,219h3v1h-3zM330,218h1v3h-1zM349,214h3v1h-3zM350,213h1v3h-1zM369,211h3v1h-3zM370,210h1v3h-1zM389,201h3v1h-3zM390,200h1v3h-1zM409,193h3v1h-3zM410,192h1v3h-1zM429,188h3v1h-3zM430,187h1v3h-1zM449,172h3v1h-3zM450,171h1v3h-1zM469,162h3v1h-3zM470,161h1v3h-1zM489,161h3v1h-3zM490,160h1v3h-1zM509,168h3v1h-3zM510,167h1v3h-1zM529,182h3v1h-3zM530,181h1v3h-1zM549,194h3v1h-3zM550,193h1v3h-1zM569,209h3v1h-3zM570,208h1v3h-1zM589,226h3v1h-3zM590,225h1v3h-1zM609,235h3v1h-3zM610,234h1v3h-1zM629,235h3v1h-3zM630,234h1v3h-1zM649,235h3v1h-3zM650,234h1v3h-1zM669,235h3v1h-3zM670,234h1v3h-1zM689,235h3v1h-3zM690,234h1v3h-1z" fill="#0838B0" stroke="none"/>
<polyline points="50,370.5 70,367.5 90,366.5 110,369.5 130,375.5 150,374.5 170,374.5 190,377.5 210,387.5 230,390.5 250,389.5 270,390.5 290,387.5 310,368.5 330,354.5 350,352.5 370,358.5 390,360.5 410,358.5 430,352.5 450,333.5 470,336.5 490,329.5 510,336.5 530,345.5 550,346.5 570,358.5 590,365.5 610,365.5 630,368.5 650,366.5 670,369.5 690,381.5" stroke="#0838B0" transform="translate(0.5,0)"/>
<path d="M49,370h3v1h-3zM50,369h1v3h-1zM69,367h3v1h-3zM70,366h1v3h-1zM89,366h3v1h-3zM90,365h1v3h-1zM109,369h3v1h-3zM110,368h1v3h-1zM129,375h3v1h-3zM130,374h1v3h-1zM149,374h3v1h-3zM150,373h1v3h-1zM169,374h3v1h-3zM170,373h1v3h-1zM189,377h3v1h-3zM190,376h1v3h-1zM209,387h3v1h-3zM210,386h1v3h-1zM229,390h3v1h-3zM230,389h1v3h-1zM249,389h3v1h-3zM250,388h1v3h-1zM269,390h3v1h-3zM270,389h1v3h-1zM289,387h3v1h-3zM290,386h1v3h-1zM309,368h3v1h-3zM310,367h1v3h-1zM329,354h3v1h-3zM330,353h1v3h-1zM349,352h3v1h-3zM350,351h1v3h-1zM369,358h3v1h-3zM370,357h1v3h-1zM389,360h3v1h-3zM390,359h1v3h-1zM409,358h3v1h-3zM410,357h1v3h-1zM429,352h3v1h-3zM430,351h1v3h-1zM449,333h3v1h-3zM450,332h1v3h-1zM469,336h3v1h-3zM470,335h1v3h-1zM489,329h3v1h-3zM490,328h1v3h-1zM509,336h3v1h-3zM510,335h1v3h-1zM529,345h3v1h-3zM530,344h1v3h-1zM549,346h3v1h-3zM550,345h1v3h-1zM569,358h3v1h-3zM570,357h1v3h-1zM589,365h3v1h-3zM590,364h1v3h-1zM609,365h3v1h-3zM610,364h1v3h-1zM629,368h3v1h-3zM630,367h1v3h-1zM649,366h3v1h-3zM650,365h1v3h-1zM669,369h3v1h-3zM670,368h1v3h-1zM689,381h3v1h-3zM690,380h1v3h-1z" fill="#0838B0" stroke="none"/>
<polyline points="210.5,546.5 230.5,530.5 250.5,532.5 270.5,546.5" stroke="#805828"/>
<path d="M229,530h3v1h-3zM230,529h1v3h-1zM249,532h3v1h-3zM250,531h1v3h-1z" fill="#805828" stroke="none"/>
<polyline points="210.5,546.5 230.5,532.5 250.5,541.5 270.5,546.5" stroke="#687078"/>
<path d="M229,532h3v1h-3zM230,531h1v3h-1zM249,541h3v1h-3zM250,540h1v3h-1z" fill="#687078" stroke="none"/>
<polyline points="230.5,546.5 250.5,539.5 270.5,546.5" stroke="#3890C0"/>
<path d="M249,539h3v1h-3zM250,538h1v3h-1z" fill="#3890C0" stroke="none"/>
<polyline points="290.5,546.5 310.5,537.5 330.5,546.5" stroke="#905820"/>
<path d="M309,537h3v1h-3zM310,536h1v3h-1z" fill="#905820" stroke="none"/>
<polyline points="370.5,546.5 390.5,496.5 410.5,546.5 430.5,539.5 450.5,546.5" stroke="#880810"/>
<path d="M389,496h3v1h-3zM390,495h1v3h-1zM429,539h3v1h-3zM430,538h1v3h-1z" fill="#880810" stroke="none"/>
<polyline points="350.5,546.5 370.5,534.5 390.5,528.5 410.5,536.5 430.5,540.5 450.5,546.5 490.5,546.5 510.5,541.5 530.5,534.5 550.5,539.5 570.5,546.5" stroke="#E87C30"/>
<path d="M369,534h3v1h-3zM370,533h1v3h-1zM389,528h3v1h-3zM390,527h1v3h-1zM409,536h3v1h-3zM410,535h1v3h-1zM429,540h3v1h-3zM430,539h1v3h-1zM509,541h3v1h-3zM510,540h1v3h-1zM529,534h3v1h-3zM530,533h1v3h-1zM549,539h3v1h-3zM550,538h1v3h-1z" fill="#E87C30" stroke="none"/>
<polyline points="350.5,546.5 370.5,539.5 390.5,537.5 410.5,546.5" stroke="#F0D010"/>
<path d="M369,539h3v1h-3zM370,538h1v3h-1zM389,537h3v1h-3zM390,536h1v3h-1z" fill="#F0D010" stroke="none"/>
<polyline points="390.5,546.5 410.5,522.5 430.5,546.5" stroke="#8020F0"/>
<path d="M409,522h3v1h-3zM410,521h1v3h-1z" fill="#8020F0" stroke="none"/>
<polyline points="410.5,546.5 430.5,506.5 450.5,525.5 470.5,538.5 490.5,523.5 510.5,546.5 570.5,546.5 590.5,522.5 610.5,546.5" stroke="#204060"/>
<path d="M429,506h3v1h-3zM430,505h1v3h-1zM449,525h3v1h-3zM450,524h1v3h-1zM469,538h3v1h-3zM470,537h1v3h-1zM489,523h3v1h-3zM490,522h1v3h-1zM589,522h3v1h-3zM590,521h1v3h-1z" fill="#204060" stroke="none"/>
<polyline points="450.5,546.5 470.5,540.5 490.5,546.5" stroke="#E878F0"/>
<path d="M469,540h3v1h-3zM470,539h1v3h-1z" fill="#E878F0" stroke="none"/>
<polyline points="470.5,546.5 490.5,541.5 510.5,546.5" stroke="#300870"/>
<path d="M489,541h3v1h-3zM490,540h1v3h-1z" fill="#300870" stroke="none"/>
</g>
<rect x="69" y="544" width="611" height="3" fill="#0000ff" shape-rendering="crispEdges"/>
<polygon points="50.5,190.5 70.5,192.5 90.5,191.5 110.5,191.5 130.5,191.5 150.5,196.5 170.5,200.5 190.5,207.5 210.5,213.5 230.5,217.5 250.5,219.5 270.5,221.5 290.5,223.5 310.5,222.5 330.5,218.5 350.5,213.5 370.5,208.5 390.5,204.5 410.5,201.5 430.5,198.5 450.5,195.5 470.5,190.5 490.5,188.5 510.5,188.5 530.5,194.5 550.5,201.5 570.5,207.5 590.5,214.5 610.5,218.5 630.5,217.5 650.5,217.5 670.5,217.5 690.5,216.5 690.5,218.5 670.5,219.5 650.5,219.5 630.5,219.5 610.5,220.5 590.5,216.5 570.5,209.5 550.5,203.5 530.5,196.5 510.5,190.5 490.5,190.5 470.5,192.5 450.5,197.5 430.5,200.5 410.5,203.5 390.5,206.5 370.5,210.5 350.5,215.5 330.5,220.5 310.5,224.5 290.5,225.5 270.5,223.5 250.5,221.5 230.5,219.5 210.5,215.5 190.5,209.5 170.5,202.5 150.5,198.5 130.5,193.5 110.5,193.5 90.5,193.5 70.5,194.5 50.5,192.5" fill="#ff0000" stroke="#ff0000" stroke-width="1" stroke-linejoin="round" shape-rendering="crispEdges"/>
<polygon points="50.5,367.5 70.5,364.5 90.5,365.5 110.5,370.5 130.5,375.5 150.5,374.5 170.5,374.5 190.5,377.5 210.5,382.5 230.5,387.5 250.5,390.5 270.5,390.5 290.5,386.5 310.5,373.5 330.5,359.5 350.5,357.5 370.5,358.5 390.5,357.5 410.5,353.5 430.5,345.5 450.5,337.5 470.5,335.5 490.5,333.5 510.5,336.5 530.5,344.5 550.5,354.5 570.5,361.5 590.5,363.5 610.5,365.5 630.5,363.5 650.5,362.5 670.5,362.5 690.5,363.5 690.5,365.5 670.5,364.5 650.5,364.5 630.5,365.5 610.5,367.5 590.5,365.5 570.5,363.5 550.5,356.5 530.5,346.5 510.5,338.5 490.5,335.5 470.5,337.5 450.5,339.5 430.5,347.5 410.5,355.5 390.5,359.5 370.5,360.5 350.5,359.5 330.5,361.5 310.5,375.5 290.5,388.5 270.5,392.5 250.5,392.5 230.5,389.5 210.5,384.5 190.5,379.5 170.5,376.5 150.5,376.5 130.5,377.5 110.5,372.5 90.5,367.5 70.5,366.5 50.5,369.5" fill="#ff0000" stroke="#ff0000" stroke-width="1" stroke-linejoin="round" shape-rendering="crispEdges"/>
<polygon points="69.5,543.5 79.5,543.5 81.5,544.5 199.5,544.5 201.5,543.5 220.5,543.5 230.5,542.5 240.5,543.5 279.5,543.5 281.5,544.5 299.5,544.5 301.5,543.5 370.5,543.5 385.5,542.5 395.5,542.5 410.5,542.5 430.5,543.5 450.5,543.5 679.5,543.5 681.5,544.5 691.5,544.5 691.5,546.5 681.5,546.5 679.5,545.5 450.5,545.5 430.5,545.5 410.5,544.5 395.5,544.5 385.5,544.5 370.5,545.5 301.5,545.5 299.5,546.5 281.5,546.5 279.5,545.5 240.5,545.5 230.5,544.5 220.5,545.5 201.5,545.5 199.5,546.5 81.5,546.5 79.5,545.5 69.5,545.5" fill="#ff0000" stroke="#ff0000" stroke-width="1" stroke-linejoin="round" shape-rendering="crispEdges"/>
<text x="19.5" y="27" class="s" textLength="12" lengthAdjust="spacingAndGlyphs">3<tspan class="z">0</tspan></text>
<text x="709.5" y="27" class="s" textLength="12" lengthAdjust="spacingAndGlyphs">75</text>
<text x="19.5" y="62" class="s" textLength="12" lengthAdjust="spacingAndGlyphs">25</text>
<text x="709.5" y="62" class="s" textLength="12" lengthAdjust="spacingAndGlyphs">7<tspan class="z">0</tspan></text>
<text x="19.5" y="97" class="s" textLength="12" lengthAdjust="spacingAndGlyphs">2<tspan class="z">0</tspan></text>
<text x="709.5" y="97" class="s" textLength="12" lengthAdjust="spacingAndGlyphs">65</text>
<text x="19.5" y="132" class="s" textLength="12" lengthAdjust="spacingAndGlyphs">15</text>
<text x="709.5" y="132" class="s" textLength="12" lengthAdjust="spacingAndGlyphs">6<tspan class="z">0</tspan></text>
<text x="19.5" y="167" class="s" textLength="12" lengthAdjust="spacingAndGlyphs">1<tspan class="z">0</tspan></text>
<text x="709.5" y="167" class="s" textLength="12" lengthAdjust="spacingAndGlyphs">55</text>
<text x="19.5" y="202" class="s" textLength="6" lengthAdjust="spacingAndGlyphs">5</text>
<text x="709.5" y="202" class="s" textLength="12" lengthAdjust="spacingAndGlyphs">5<tspan class="z">0</tspan></text>
<text x="19.5" y="237" class="s" textLength="6" lengthAdjust="spacingAndGlyphs"><tspan class="z">0</tspan></text>
<text x="709.5" y="237" class="s" textLength="12" lengthAdjust="spacingAndGlyphs">45</text>
<text x="19.5" y="272" class="s" textLength="12" lengthAdjust="spacingAndGlyphs">-5</text>
<text x="709.5" y="272" class="s" textLength="12" lengthAdjust="spacingAndGlyphs">4<tspan class="z">0</tspan></text>
<text x="19.5" y="307" class="s" textLength="18" lengthAdjust="spacingAndGlyphs">-1<tspan class="z">0</tspan></text>
<text x="709.5" y="307" class="s" textLength="12" lengthAdjust="spacingAndGlyphs">35</text>
<text x="19.5" y="342" class="s" textLength="18" lengthAdjust="spacingAndGlyphs">-15</text>
<text x="709.5" y="342" class="s" textLength="12" lengthAdjust="spacingAndGlyphs">3<tspan class="z">0</tspan></text>
<text x="19.5" y="377" class="s" textLength="18" lengthAdjust="spacingAndGlyphs">-2<tspan class="z">0</tspan></text>
<text x="709.5" y="377" class="s" textLength="12" lengthAdjust="spacingAndGlyphs">25</text>
<text x="19.5" y="412" class="s" textLength="18" lengthAdjust="spacingAndGlyphs">-25</text>
<text x="709.5" y="412" class="s" textLength="12" lengthAdjust="spacingAndGlyphs">2<tspan class="z">0</tspan></text>
<text x="19.5" y="447" class="s" textLength="18" lengthAdjust="spacingAndGlyphs">-3<tspan class="z">0</tspan></text>
<text x="709.5" y="447" class="s" textLength="12" lengthAdjust="spacingAndGlyphs">15</text>
<text x="19.5" y="482" class="s" textLength="18" lengthAdjust="spacingAndGlyphs">-35</text>
<text x="709.5" y="482" class="s" textLength="12" lengthAdjust="spacingAndGlyphs">1<tspan class="z">0</tspan></text>
<text x="19.5" y="517" class="s" textLength="18" lengthAdjust="spacingAndGlyphs">-4<tspan class="z">0</tspan></text>
<text x="709.5" y="517" class="s" textLength="6" lengthAdjust="spacingAndGlyphs">5</text>
<text x="19.5" y="552" class="s" textLength="18" lengthAdjust="spacingAndGlyphs">-45</text>
<text x="709.5" y="552" class="s" textLength="6" lengthAdjust="spacingAndGlyphs"><tspan class="z">0</tspan></text>
<text x="19.5" y="610" class="s" textLength="24" lengthAdjust="spacingAndGlyphs">(°c)</text>
<text x="709.5" y="610" class="s" textLength="24" lengthAdjust="spacingAndGlyphs">(mm)</text>
<text x="9.5" y="627" class="s" textLength="48" lengthAdjust="spacingAndGlyphs">Alt. 99m</text>
<text class="s" textLength="30" lengthAdjust="spacingAndGlyphs" transform="translate(121,631) rotate(-90)"><tspan class="z">0</tspan>6/12</text>
<text class="s" textLength="30" lengthAdjust="spacingAndGlyphs" transform="translate(201,631) rotate(-90)"><tspan class="z">0</tspan>7/12</text>
<text class="s" textLength="30" lengthAdjust="spacingAndGlyphs" transform="translate(281,631) rotate(-90)"><tspan class="z">0</tspan>8/12</text>
<text class="s" textLength="30" lengthAdjust="spacingAndGlyphs" transform="translate(361,631) rotate(-90)"><tspan class="z">0</tspan>9/12</text>
<text class="s" textLength="30" lengthAdjust="spacingAndGlyphs" transform="translate(441,631) rotate(-90)">1<tspan class="z">0</tspan>/12</text>
<text class="s" textLength="30" lengthAdjust="spacingAndGlyphs" transform="translate(521,631) rotate(-90)">11/12</text>
<text class="s" textLength="30" lengthAdjust="spacingAndGlyphs" transform="translate(601,631) rotate(-90)">12/12</text>
<text class="s" textLength="30" lengthAdjust="spacingAndGlyphs" transform="translate(681,631) rotate(-90)">13/12</text>
<text x="59.5" y="179" class="s" textLength="72" lengthAdjust="spacingAndGlyphs">Temp. 85<tspan class="z">0</tspan>hPa</text>
<text x="59.5" y="357" class="s" textLength="72" lengthAdjust="spacingAndGlyphs">Temp. 5<tspan class="z">0</tspan><tspan class="z">0</tspan>hPa</text>
<text x="59.5" y="539" class="s" textLength="84" lengthAdjust="spacingAndGlyphs">Précipitations</text>
<g shape-rendering="crispEdges"><rect x="35" y="635" width="31" height="4" fill="#ff0000"/><rect x="225" y="635" width="31" height="4" fill="#0000ff"/><rect x="225" y="645" width="31" height="4" fill="#000"/></g>
<text x="74.5" y="641" class="s" textLength="126" lengthAdjust="spacingAndGlyphs">Moyenne des scénarios</text>
<text x="74.5" y="663" class="s" textLength="72" lengthAdjust="spacingAndGlyphs">Risque neige</text>
<text x="264.5" y="641" class="s" textLength="90" lengthAdjust="spacingAndGlyphs">Run de contrôle</text>
<text x="264.5" y="651" class="s" textLength="42" lengthAdjust="spacingAndGlyphs">Run GFS</text>
<text x="339.5" y="656" class="s" textLength="54" lengthAdjust="spacingAndGlyphs">3<tspan class="z">0</tspan> Perts.</text>
<g transform="translate(60.5,657.5)"><polygon points="0,-5.7 5,-2.9 5,2.9 0,5.7 -5,2.9 -5,-2.9" fill="#6cc4f8"/><path d="M2.2,0H4.6M-2.2,0H-4.6M1.3,-2.25L1.9,-3.3M-1.3,-2.25L-1.9,-3.3M1.3,2.25L1.9,3.3M-1.3,2.25L-1.9,3.3" stroke="#fff" stroke-width="1" stroke-linecap="round" fill="none"/><g fill="#2a96e6"><circle cx="0" cy="-4.5" r="1"/><circle cx="0" cy="4.5" r="1"/><circle cx="3.9" cy="-2.25" r="1"/><circle cx="3.9" cy="2.25" r="1"/><circle cx="-3.9" cy="-2.25" r="1"/><circle cx="-3.9" cy="2.25" r="1"/></g></g>
<g shape-rendering="crispEdges">
<rect x="400" y="650" width="10" height="6" fill="#E87C30"/>
<rect x="411" y="650" width="10" height="6" fill="#80C468"/>
<rect x="422" y="650" width="10" height="6" fill="#F0C010"/>
<rect x="433" y="650" width="10" height="6" fill="#9048B0"/>
<rect x="444" y="650" width="10" height="6" fill="#B04810"/>
<rect x="455" y="650" width="10" height="6" fill="#508010"/>
<rect x="466" y="650" width="10" height="6" fill="#0878F0"/>
<rect x="477" y="650" width="10" height="6" fill="#E8D8B0"/>
<rect x="488" y="650" width="10" height="6" fill="#3890C0"/>
<rect x="499" y="650" width="10" height="6" fill="#E8A850"/>
<rect x="510" y="650" width="10" height="6" fill="#604820"/>
<rect x="521" y="650" width="10" height="6" fill="#F06020"/>
<rect x="532" y="650" width="10" height="6" fill="#D0C078"/>
<rect x="543" y="650" width="10" height="6" fill="#08D050"/>
<rect x="554" y="650" width="10" height="6" fill="#204060"/>
<rect x="565" y="650" width="10" height="6" fill="#687078"/>
<rect x="576" y="650" width="10" height="6" fill="#E878F0"/>
<rect x="587" y="650" width="10" height="6" fill="#8020F0"/>
<rect x="598" y="650" width="10" height="6" fill="#805828"/>
<rect x="609" y="650" width="10" height="6" fill="#300870"/>
<rect x="620" y="650" width="10" height="6" fill="#F0D010"/>
<rect x="631" y="650" width="10" height="6" fill="#2868A0"/>
<rect x="642" y="650" width="10" height="6" fill="#905820"/>
<rect x="653" y="650" width="10" height="6" fill="#9888E8"/>
<rect x="664" y="650" width="10" height="6" fill="#A0F040"/>
<rect x="675" y="650" width="10" height="6" fill="#D070D0"/>
<rect x="686" y="650" width="10" height="6" fill="#1808A0"/>
<rect x="697" y="650" width="10" height="6" fill="#E8D0A8"/>
<rect x="708" y="650" width="10" height="6" fill="#880810"/>
<rect x="719" y="650" width="10" height="6" fill="#0838B0"/>
</g>
<text x="400" y="646.7" class="t" textLength="9" lengthAdjust="spacingAndGlyphs">01</text>
<text x="411" y="646.7" class="t" textLength="9" lengthAdjust="spacingAndGlyphs">02</text>
<text x="422" y="646.7" class="t" textLength="9" lengthAdjust="spacingAndGlyphs">03</text>
<text x="433" y="646.7" class="t" textLength="9" lengthAdjust="spacingAndGlyphs">04</text>
<text x="444" y="646.7" class="t" textLength="9" lengthAdjust="spacingAndGlyphs">05</text>
<text x="455" y="646.7" class="t" textLength="9" lengthAdjust="spacingAndGlyphs">06</text>
<text x="466" y="646.7" class="t" textLength="9" lengthAdjust="spacingAndGlyphs">07</text>
<text x="477" y="646.7" class="t" textLength="9" lengthAdjust="spacingAndGlyphs">08</text>
<text x="488" y="646.7" class="t" textLength="9" lengthAdjust="spacingAndGlyphs">09</text>
<text x="499" y="646.7" class="t" textLength="9" lengthAdjust="spacingAndGlyphs">10</text>
<text x="510" y="646.7" class="t" textLength="9" lengthAdjust="spacingAndGlyphs">11</text>
<text x="521" y="646.7" class="t" textLength="9" lengthAdjust="spacingAndGlyphs">12</text>
<text x="532" y="646.7" class="t" textLength="9" lengthAdjust="spacingAndGlyphs">13</text>
<text x="543" y="646.7" class="t" textLength="9" lengthAdjust="spacingAndGlyphs">14</text>
<text x="554" y="646.7" class="t" textLength="9" lengthAdjust="spacingAndGlyphs">15</text>
<text x="565" y="646.7" class="t" textLength="9" lengthAdjust="spacingAndGlyphs">16</text>
<text x="576" y="646.7" class="t" textLength="9" lengthAdjust="spacingAndGlyphs">17</text>
<text x="587" y="646.7" class="t" textLength="9" lengthAdjust="spacingAndGlyphs">18</text>
<text x="598" y="646.7" class="t" textLength="9" lengthAdjust="spacingAndGlyphs">19</text>
<text x="609" y="646.7" class="t" textLength="9" lengthAdjust="spacingAndGlyphs">20</text>
<text x="620" y="646.7" class="t" textLength="9" lengthAdjust="spacingAndGlyphs">21</text>
<text x="631" y="646.7" class="t" textLength="9" lengthAdjust="spacingAndGlyphs">22</text>
<text x="642" y="646.7" class="t" textLength="9" lengthAdjust="spacingAndGlyphs">23</text>
<text x="653" y="646.7" class="t" textLength="9" lengthAdjust="spacingAndGlyphs">24</text>
<text x="664" y="646.7" class="t" textLength="9" lengthAdjust="spacingAndGlyphs">25</text>
<text x="675" y="646.7" class="t" textLength="9" lengthAdjust="spacingAndGlyphs">26</text>
<text x="686" y="646.7" class="t" textLength="9" lengthAdjust="spacingAndGlyphs">27</text>
<text x="697" y="646.7" class="t" textLength="9" lengthAdjust="spacingAndGlyphs">28</text>
<text x="708" y="646.7" class="t" textLength="9" lengthAdjust="spacingAndGlyphs">29</text>
<text x="719" y="646.7" class="t" textLength="9" lengthAdjust="spacingAndGlyphs">30</text>
<rect x="20.5" y="667.5" width="420" height="32" fill="none" stroke="#000" stroke-width="1" shape-rendering="crispEdges"/>
<text x="29.5" y="681" class="b" textLength="357" lengthAdjust="spacingAndGlyphs">Diagramme des ensembles GEFS sur 192h : 47.3N 21.6E</text>
<text x="29.5" y="696" class="s" textLength="336" lengthAdjust="spacingAndGlyphs">Températures 85<tspan class="z">0</tspan>hPa et 5<tspan class="z">0</tspan><tspan class="z">0</tspan>hPa (°C) , précipitations (mm)</text>
<text x="449.5" y="680" class="s" textLength="198" lengthAdjust="spacingAndGlyphs">Ensemble GEFS du <tspan class="z">0</tspan>5/12/2<tspan class="z">0</tspan>25 - <tspan class="z">0</tspan>6Z</text>
<text x="449.5" y="696" class="b" textLength="189" lengthAdjust="spacingAndGlyphs">Copyright 2<tspan class="z">0</tspan>25 Meteociel.fr</text>
</svg></body></html>
